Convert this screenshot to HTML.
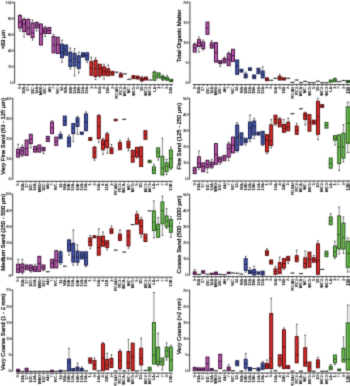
<!DOCTYPE html>
<html><head><meta charset="utf-8"><title>Sediment grain size box plots</title>
<style>
html,body{margin:0;padding:0;background:#fff;}
body{width:350px;height:386px;overflow:hidden;}
svg{display:block;will-change:transform;}
text{font-family:"Liberation Sans",sans-serif;fill:#222;}
.tl{font-size:4.3px;text-anchor:end;fill:#111;stroke:#111;stroke-width:0.1px;}
.xl{font-size:4.1px;text-anchor:end;fill:#000;stroke:#000;stroke-width:0.1px;}
.yl{font-size:5.7px;text-anchor:middle;fill:#000;stroke:#000;stroke-width:0.22px;}
.ax{stroke:#222;stroke-width:0.85;fill:none;}
.wh{stroke:#4a4a4a;stroke-width:0.65;}
.cap{stroke:#222;stroke-width:0.9;}
</style></head>
<body>
<svg width="350" height="386" viewBox="0 0 350 386">
<defs><filter id="bl" x="0" y="0" width="1" height="1" color-interpolation-filters="sRGB"><feConvolveMatrix order="3" kernelMatrix="0.03 0.09 0.03 0.09 0.52 0.09 0.03 0.09 0.03" edgeMode="duplicate"/></filter></defs>
<rect width="350" height="386" fill="#fff"/>
<g filter="url(#bl)">
<line x1="14.6" y1="2" x2="14.6" y2="83.3" class="ax"/>
<line x1="13" y1="83" x2="14.6" y2="83" class="ax"/>
<text x="12.7" y="84.35" class="tl">0</text>
<line x1="13" y1="66.86" x2="14.6" y2="66.86" class="ax"/>
<text x="12.7" y="68.21" class="tl">20</text>
<line x1="13" y1="50.72" x2="14.6" y2="50.72" class="ax"/>
<text x="12.7" y="52.07" class="tl">40</text>
<line x1="13" y1="34.58" x2="14.6" y2="34.58" class="ax"/>
<text x="12.7" y="35.93" class="tl">60</text>
<line x1="13" y1="18.44" x2="14.6" y2="18.44" class="ax"/>
<text x="12.7" y="19.79" class="tl">80</text>
<line x1="13" y1="2.3" x2="14.6" y2="2.3" class="ax"/>
<text x="12.7" y="3.65" class="tl">100</text>
<line x1="17.6" y1="84.6" x2="173" y2="84.6" class="ax"/>
<line x1="19.9" y1="84.6" x2="19.9" y2="86" class="ax"/>
<text transform="translate(21.08 86.8) rotate(-90) scale(1 1)" class="xl">9</text>
<line x1="24.1" y1="84.6" x2="24.1" y2="86" class="ax"/>
<text transform="translate(25.28 86.8) rotate(-90) scale(1 1)" class="xl">10A</text>
<line x1="28.31" y1="84.6" x2="28.31" y2="86" class="ax"/>
<text transform="translate(29.49 86.8) rotate(-90) scale(1 1)" class="xl">17</text>
<line x1="32.52" y1="84.6" x2="32.52" y2="86" class="ax"/>
<text transform="translate(33.69 86.8) rotate(-90) scale(1 1)" class="xl">10C</text>
<line x1="36.72" y1="84.6" x2="36.72" y2="86" class="ax"/>
<text transform="translate(37.9 86.8) rotate(-90) scale(1 1)" class="xl">14A</text>
<line x1="40.92" y1="84.6" x2="40.92" y2="86" class="ax"/>
<text transform="translate(42.1 86.8) rotate(-90) scale(1 1)" class="xl">MB0</text>
<line x1="45.13" y1="84.6" x2="45.13" y2="86" class="ax"/>
<text transform="translate(46.31 86.8) rotate(-90) scale(1 1)" class="xl">10C</text>
<line x1="49.34" y1="84.6" x2="49.34" y2="86" class="ax"/>
<text transform="translate(50.51 86.8) rotate(-90) scale(1 1)" class="xl">AN</text>
<line x1="53.54" y1="84.6" x2="53.54" y2="86" class="ax"/>
<text transform="translate(54.72 86.8) rotate(-90) scale(1 1)" class="xl">7</text>
<line x1="57.74" y1="84.6" x2="57.74" y2="86" class="ax"/>
<text transform="translate(58.92 86.8) rotate(-90) scale(1 1)" class="xl">WC</text>
<line x1="61.95" y1="84.6" x2="61.95" y2="86" class="ax"/>
<text transform="translate(63.13 86.8) rotate(-90) scale(1 1)" class="xl">14</text>
<line x1="66.16" y1="84.6" x2="66.16" y2="86" class="ax"/>
<text transform="translate(67.33 86.8) rotate(-90) scale(1 1)" class="xl">WA</text>
<line x1="70.36" y1="84.6" x2="70.36" y2="86" class="ax"/>
<text transform="translate(71.54 86.8) rotate(-90) scale(1 1)" class="xl">10B</text>
<line x1="74.56" y1="84.6" x2="74.56" y2="86" class="ax"/>
<text transform="translate(75.74 86.8) rotate(-90) scale(1 1)" class="xl">12A</text>
<line x1="78.77" y1="84.6" x2="78.77" y2="86" class="ax"/>
<text transform="translate(79.95 86.8) rotate(-90) scale(1 1)" class="xl">10B</text>
<line x1="82.97" y1="84.6" x2="82.97" y2="86" class="ax"/>
<text transform="translate(84.15 86.8) rotate(-90) scale(1 1)" class="xl">12A</text>
<line x1="87.18" y1="84.6" x2="87.18" y2="86" class="ax"/>
<text transform="translate(88.36 86.8) rotate(-90) scale(1 1)" class="xl">13A</text>
<line x1="91.38" y1="84.6" x2="91.38" y2="86" class="ax"/>
<text transform="translate(92.56 86.8) rotate(-90) scale(1 1)" class="xl">1</text>
<line x1="95.59" y1="84.6" x2="95.59" y2="86" class="ax"/>
<text transform="translate(96.77 86.8) rotate(-90) scale(1 1)" class="xl">3</text>
<line x1="99.79" y1="84.6" x2="99.79" y2="86" class="ax"/>
<text transform="translate(100.97 86.8) rotate(-90) scale(1 1)" class="xl">16A</text>
<line x1="104" y1="84.6" x2="104" y2="86" class="ax"/>
<text transform="translate(105.18 86.8) rotate(-90) scale(1 1)" class="xl">4</text>
<line x1="108.21" y1="84.6" x2="108.21" y2="86" class="ax"/>
<text transform="translate(109.38 86.8) rotate(-90) scale(1 1)" class="xl">11B</text>
<line x1="112.41" y1="84.6" x2="112.41" y2="86" class="ax"/>
<text transform="translate(113.59 86.8) rotate(-90) scale(1 1)" class="xl">2</text>
<line x1="116.62" y1="84.6" x2="116.62" y2="86" class="ax"/>
<text transform="translate(117.79 86.8) rotate(-90) scale(1 1)" class="xl">RCAN</text>
<line x1="120.82" y1="84.6" x2="120.82" y2="86" class="ax"/>
<text transform="translate(122 86.8) rotate(-90) scale(1 1)" class="xl">RC2</text>
<line x1="125.03" y1="84.6" x2="125.03" y2="86" class="ax"/>
<text transform="translate(126.2 86.8) rotate(-90) scale(1 1)" class="xl">MCA</text>
<line x1="129.23" y1="84.6" x2="129.23" y2="86" class="ax"/>
<text transform="translate(130.41 86.8) rotate(-90) scale(1 1)" class="xl">MC</text>
<line x1="133.44" y1="84.6" x2="133.44" y2="86" class="ax"/>
<text transform="translate(134.61 86.8) rotate(-90) scale(1 1)" class="xl">MC5</text>
<line x1="137.64" y1="84.6" x2="137.64" y2="86" class="ax"/>
<text transform="translate(138.82 86.8) rotate(-90) scale(1 1)" class="xl">5</text>
<line x1="141.84" y1="84.6" x2="141.84" y2="86" class="ax"/>
<text transform="translate(143.02 86.8) rotate(-90) scale(1 1)" class="xl">10</text>
<line x1="146.05" y1="84.6" x2="146.05" y2="86" class="ax"/>
<text transform="translate(147.23 86.8) rotate(-90) scale(1 1)" class="xl">MC2</text>
<line x1="150.25" y1="84.6" x2="150.25" y2="86" class="ax"/>
<text transform="translate(151.43 86.8) rotate(-90) scale(1 1)" class="xl">MC3</text>
<line x1="154.46" y1="84.6" x2="154.46" y2="86" class="ax"/>
<text transform="translate(155.64 86.8) rotate(-90) scale(1 1)" class="xl">LA</text>
<line x1="158.67" y1="84.6" x2="158.67" y2="86" class="ax"/>
<text transform="translate(159.84 86.8) rotate(-90) scale(1 1)" class="xl">1</text>
<line x1="162.87" y1="84.6" x2="162.87" y2="86" class="ax"/>
<text transform="translate(164.05 86.8) rotate(-90) scale(1 1)" class="xl">7</text>
<line x1="167.08" y1="84.6" x2="167.08" y2="86" class="ax"/>
<text transform="translate(168.25 86.8) rotate(-90) scale(1 1)" class="xl">3</text>
<line x1="171.28" y1="84.6" x2="171.28" y2="86" class="ax"/>
<text transform="translate(172.46 86.8) rotate(-90) scale(1 1)" class="xl">13B</text>
<text transform="translate(5 39.55) rotate(-90)" class="yl" textLength="19.1" lengthAdjust="spacingAndGlyphs"><63 µm</text>
<line x1="19.9" y1="15" x2="19.9" y2="15.5" class="wh"/>
<line x1="19.15" y1="15" x2="20.65" y2="15" class="cap"/>
<line x1="19.9" y1="28" x2="19.9" y2="31" class="wh"/>
<line x1="19.15" y1="31" x2="20.65" y2="31" class="cap"/>
<rect x="18.45" y="15.5" width="2.9" height="12.5" fill="#c25fb4" stroke="#3a0c38" stroke-width="1"/>
<line x1="18.45" y1="22" x2="21.35" y2="22" stroke="#3a0c38" stroke-width="0.9"/>
<line x1="24.1" y1="18" x2="24.1" y2="19.5" class="wh"/>
<line x1="23.35" y1="18" x2="24.85" y2="18" class="cap"/>
<line x1="24.1" y1="31.5" x2="24.1" y2="37" class="wh"/>
<line x1="23.35" y1="37" x2="24.85" y2="37" class="cap"/>
<rect x="22.65" y="19.5" width="2.9" height="12" fill="#c25fb4" stroke="#3a0c38" stroke-width="1"/>
<line x1="22.65" y1="24" x2="25.55" y2="24" stroke="#3a0c38" stroke-width="0.9"/>
<line x1="28.31" y1="19" x2="28.31" y2="19.5" class="wh"/>
<line x1="27.56" y1="19" x2="29.06" y2="19" class="cap"/>
<line x1="28.31" y1="34.5" x2="28.31" y2="35" class="wh"/>
<line x1="27.56" y1="35" x2="29.06" y2="35" class="cap"/>
<rect x="26.86" y="19.5" width="2.9" height="15" fill="#c25fb4" stroke="#3a0c38" stroke-width="1"/>
<line x1="26.86" y1="28" x2="29.76" y2="28" stroke="#3a0c38" stroke-width="0.9"/>
<line x1="32.52" y1="20" x2="32.52" y2="23" class="wh"/>
<line x1="31.77" y1="20" x2="33.27" y2="20" class="cap"/>
<line x1="32.52" y1="37.5" x2="32.52" y2="40" class="wh"/>
<line x1="31.77" y1="40" x2="33.27" y2="40" class="cap"/>
<rect x="31.07" y="23" width="2.9" height="14.5" fill="#c25fb4" stroke="#3a0c38" stroke-width="1"/>
<line x1="31.07" y1="33" x2="33.97" y2="33" stroke="#3a0c38" stroke-width="0.9"/>
<line x1="36.72" y1="22" x2="36.72" y2="22.5" class="wh"/>
<line x1="35.97" y1="22" x2="37.47" y2="22" class="cap"/>
<line x1="36.72" y1="28" x2="36.72" y2="31" class="wh"/>
<line x1="35.97" y1="31" x2="37.47" y2="31" class="cap"/>
<rect x="35.27" y="22.5" width="2.9" height="5.5" fill="#c25fb4" stroke="#3a0c38" stroke-width="1"/>
<line x1="35.27" y1="25" x2="38.17" y2="25" stroke="#3a0c38" stroke-width="0.9"/>
<rect x="39.47" y="24" width="2.9" height="21" fill="#c25fb4" stroke="#3a0c38" stroke-width="1"/>
<line x1="39.47" y1="34" x2="42.38" y2="34" stroke="#3a0c38" stroke-width="0.9"/>
<line x1="45.13" y1="26.5" x2="45.13" y2="28" class="wh"/>
<line x1="44.38" y1="26.5" x2="45.88" y2="26.5" class="cap"/>
<line x1="45.13" y1="33.5" x2="45.13" y2="36.5" class="wh"/>
<line x1="44.38" y1="36.5" x2="45.88" y2="36.5" class="cap"/>
<rect x="43.68" y="28" width="2.9" height="5.5" fill="#c25fb4" stroke="#3a0c38" stroke-width="1"/>
<line x1="43.68" y1="31" x2="46.58" y2="31" stroke="#3a0c38" stroke-width="0.9"/>
<rect x="47.88" y="27.5" width="2.9" height="6" fill="#c25fb4" stroke="#3a0c38" stroke-width="1"/>
<line x1="47.88" y1="30.5" x2="50.79" y2="30.5" stroke="#3a0c38" stroke-width="0.9"/>
<line x1="53.54" y1="34.6" x2="53.54" y2="36.6" class="wh"/>
<line x1="52.79" y1="34.6" x2="54.29" y2="34.6" class="cap"/>
<rect x="52.09" y="36.6" width="2.9" height="16.2" fill="#c25fb4" stroke="#3a0c38" stroke-width="1"/>
<line x1="52.09" y1="45" x2="54.99" y2="45" stroke="#3a0c38" stroke-width="0.9"/>
<rect x="56.29" y="37.2" width="2.9" height="16.2" fill="#c25fb4" stroke="#3a0c38" stroke-width="1"/>
<line x1="56.29" y1="44.5" x2="59.2" y2="44.5" stroke="#3a0c38" stroke-width="0.9"/>
<line x1="61.95" y1="40.2" x2="61.95" y2="44.2" class="wh"/>
<line x1="61.2" y1="40.2" x2="62.7" y2="40.2" class="cap"/>
<line x1="61.95" y1="57.6" x2="61.95" y2="62.2" class="wh"/>
<line x1="61.2" y1="62.2" x2="62.7" y2="62.2" class="cap"/>
<rect x="60.5" y="44.2" width="2.9" height="13.4" fill="#465aac" stroke="#161c4a" stroke-width="1"/>
<line x1="60.5" y1="52.8" x2="63.4" y2="52.8" stroke="#161c4a" stroke-width="0.9"/>
<rect x="64.7" y="45" width="2.9" height="10.2" fill="#465aac" stroke="#161c4a" stroke-width="1"/>
<line x1="64.7" y1="49.8" x2="67.61" y2="49.8" stroke="#161c4a" stroke-width="0.9"/>
<line x1="70.36" y1="48" x2="70.36" y2="52.2" class="wh"/>
<line x1="69.61" y1="48" x2="71.11" y2="48" class="cap"/>
<line x1="70.36" y1="66.6" x2="70.36" y2="69" class="wh"/>
<line x1="69.61" y1="69" x2="71.11" y2="69" class="cap"/>
<rect x="68.91" y="52.2" width="2.9" height="14.4" fill="#465aac" stroke="#161c4a" stroke-width="1"/>
<line x1="68.91" y1="60.6" x2="71.81" y2="60.6" stroke="#161c4a" stroke-width="0.9"/>
<line x1="74.56" y1="48.6" x2="74.56" y2="53.4" class="wh"/>
<line x1="73.81" y1="48.6" x2="75.31" y2="48.6" class="cap"/>
<line x1="74.56" y1="66" x2="74.56" y2="76" class="wh"/>
<line x1="73.81" y1="76" x2="75.31" y2="76" class="cap"/>
<rect x="73.11" y="53.4" width="2.9" height="12.6" fill="#465aac" stroke="#161c4a" stroke-width="1"/>
<line x1="73.11" y1="58.8" x2="76.02" y2="58.8" stroke="#161c4a" stroke-width="0.9"/>
<line x1="78.77" y1="52.2" x2="78.77" y2="55.8" class="wh"/>
<line x1="78.02" y1="52.2" x2="79.52" y2="52.2" class="cap"/>
<line x1="78.77" y1="68.4" x2="78.77" y2="73" class="wh"/>
<line x1="78.02" y1="73" x2="79.52" y2="73" class="cap"/>
<rect x="77.32" y="55.8" width="2.9" height="12.6" fill="#465aac" stroke="#161c4a" stroke-width="1"/>
<line x1="77.32" y1="62.4" x2="80.22" y2="62.4" stroke="#161c4a" stroke-width="0.9"/>
<rect x="81.52" y="52.8" width="2.9" height="4.2" fill="#465aac" stroke="#161c4a" stroke-width="1"/>
<line x1="81.52" y1="55" x2="84.42" y2="55" stroke="#161c4a" stroke-width="0.9"/>
<line x1="87.18" y1="60" x2="87.18" y2="62.4" class="wh"/>
<line x1="86.43" y1="62.4" x2="87.93" y2="62.4" class="cap"/>
<rect x="85.73" y="52.8" width="2.9" height="7.2" fill="#465aac" stroke="#161c4a" stroke-width="1"/>
<line x1="85.73" y1="55.8" x2="88.63" y2="55.8" stroke="#161c4a" stroke-width="0.9"/>
<line x1="91.38" y1="57.2" x2="91.38" y2="61.7" class="wh"/>
<line x1="90.63" y1="57.2" x2="92.13" y2="57.2" class="cap"/>
<rect x="89.93" y="61.7" width="2.9" height="13.5" fill="#e22c2c" stroke="#520808" stroke-width="1"/>
<line x1="89.93" y1="68.1" x2="92.83" y2="68.1" stroke="#520808" stroke-width="0.9"/>
<line x1="95.59" y1="57.9" x2="95.59" y2="60.4" class="wh"/>
<line x1="94.84" y1="57.9" x2="96.34" y2="57.9" class="cap"/>
<line x1="95.59" y1="76.5" x2="95.59" y2="79.4" class="wh"/>
<line x1="94.84" y1="79.4" x2="96.34" y2="79.4" class="cap"/>
<rect x="94.14" y="60.4" width="2.9" height="16.1" fill="#e22c2c" stroke="#520808" stroke-width="1"/>
<line x1="94.14" y1="68.8" x2="97.04" y2="68.8" stroke="#520808" stroke-width="0.9"/>
<line x1="99.79" y1="75.8" x2="99.79" y2="77" class="wh"/>
<line x1="99.04" y1="77" x2="100.54" y2="77" class="cap"/>
<rect x="98.34" y="64.3" width="2.9" height="11.5" fill="#e22c2c" stroke="#520808" stroke-width="1"/>
<line x1="98.34" y1="68.8" x2="101.24" y2="68.8" stroke="#520808" stroke-width="0.9"/>
<line x1="104" y1="64.3" x2="104" y2="66.9" class="wh"/>
<line x1="103.25" y1="64.3" x2="104.75" y2="64.3" class="cap"/>
<line x1="104" y1="75.2" x2="104" y2="79" class="wh"/>
<line x1="103.25" y1="79" x2="104.75" y2="79" class="cap"/>
<rect x="102.55" y="66.9" width="2.9" height="8.3" fill="#e22c2c" stroke="#520808" stroke-width="1"/>
<line x1="102.55" y1="71.4" x2="105.45" y2="71.4" stroke="#520808" stroke-width="0.9"/>
<line x1="108.21" y1="65" x2="108.21" y2="68.8" class="wh"/>
<line x1="107.46" y1="65" x2="108.96" y2="65" class="cap"/>
<rect x="106.76" y="68.8" width="2.9" height="7" fill="#e22c2c" stroke="#520808" stroke-width="1"/>
<line x1="106.76" y1="72" x2="109.66" y2="72" stroke="#520808" stroke-width="0.9"/>
<rect x="110.96" y="71.4" width="2.9" height="3.8" fill="#e22c2c" stroke="#520808" stroke-width="1"/>
<line x1="110.96" y1="73.3" x2="113.86" y2="73.3" stroke="#520808" stroke-width="0.9"/>
<rect x="114.67" y="71.65" width="3.9" height="1.1" fill="#222"/>
<line x1="120.82" y1="72.6" x2="120.82" y2="73.9" class="wh"/>
<line x1="120.07" y1="72.6" x2="121.57" y2="72.6" class="cap"/>
<rect x="119.37" y="73.9" width="2.9" height="3.2" fill="#e22c2c" stroke="#520808" stroke-width="1"/>
<line x1="119.37" y1="75.6" x2="122.27" y2="75.6" stroke="#520808" stroke-width="0.9"/>
<rect x="123.08" y="73.35" width="3.9" height="1.1" fill="#222"/>
<rect x="127.28" y="78.75" width="3.9" height="1.1" fill="#222"/>
<rect x="131.99" y="75.7" width="2.9" height="2.9" fill="#e22c2c" stroke="#520808" stroke-width="1"/>
<line x1="131.99" y1="77.1" x2="134.88" y2="77.1" stroke="#520808" stroke-width="0.9"/>
<rect x="136.19" y="76.1" width="2.9" height="2.9" fill="#e22c2c" stroke="#520808" stroke-width="1"/>
<line x1="136.19" y1="77.5" x2="139.09" y2="77.5" stroke="#520808" stroke-width="0.9"/>
<line x1="141.84" y1="76.4" x2="141.84" y2="77.9" class="wh"/>
<line x1="141.09" y1="76.4" x2="142.59" y2="76.4" class="cap"/>
<line x1="141.84" y1="80.7" x2="141.84" y2="81.7" class="wh"/>
<line x1="141.09" y1="81.7" x2="142.59" y2="81.7" class="cap"/>
<rect x="140.4" y="77.9" width="2.9" height="2.8" fill="#e22c2c" stroke="#520808" stroke-width="1"/>
<line x1="140.4" y1="79.3" x2="143.29" y2="79.3" stroke="#520808" stroke-width="0.9"/>
<rect x="144.6" y="77.1" width="2.9" height="2.9" fill="#e22c2c" stroke="#520808" stroke-width="1"/>
<line x1="144.6" y1="78.5" x2="147.5" y2="78.5" stroke="#520808" stroke-width="0.9"/>
<rect x="148.31" y="79.45" width="3.9" height="1.1" fill="#222"/>
<line x1="154.46" y1="71.1" x2="154.46" y2="72.1" class="wh"/>
<line x1="153.71" y1="71.1" x2="155.21" y2="71.1" class="cap"/>
<rect x="153.01" y="72.1" width="2.9" height="8.2" fill="#74c252" stroke="#22501a" stroke-width="1"/>
<line x1="153.01" y1="76.4" x2="155.91" y2="76.4" stroke="#22501a" stroke-width="0.9"/>
<rect x="157.22" y="72.9" width="2.9" height="5" fill="#74c252" stroke="#22501a" stroke-width="1"/>
<line x1="157.22" y1="75.4" x2="160.12" y2="75.4" stroke="#22501a" stroke-width="0.9"/>
<line x1="162.87" y1="75" x2="162.87" y2="76.4" class="wh"/>
<line x1="162.12" y1="75" x2="163.62" y2="75" class="cap"/>
<line x1="162.87" y1="79.3" x2="162.87" y2="80.7" class="wh"/>
<line x1="162.12" y1="80.7" x2="163.62" y2="80.7" class="cap"/>
<rect x="161.42" y="76.4" width="2.9" height="2.9" fill="#74c252" stroke="#22501a" stroke-width="1"/>
<line x1="161.42" y1="77.8" x2="164.32" y2="77.8" stroke="#22501a" stroke-width="0.9"/>
<line x1="167.08" y1="75.4" x2="167.08" y2="77.4" class="wh"/>
<line x1="166.33" y1="75.4" x2="167.83" y2="75.4" class="cap"/>
<rect x="165.63" y="77.4" width="2.9" height="2.9" fill="#74c252" stroke="#22501a" stroke-width="1"/>
<line x1="165.63" y1="78.8" x2="168.53" y2="78.8" stroke="#22501a" stroke-width="0.9"/>
<rect x="169.83" y="79.3" width="2.9" height="2.4" fill="#74c252" stroke="#22501a" stroke-width="1"/>
<line x1="169.83" y1="80.5" x2="172.73" y2="80.5" stroke="#22501a" stroke-width="0.9"/>
<line x1="189.9" y1="1.9" x2="189.9" y2="83.1" class="ax"/>
<line x1="188.3" y1="82.8" x2="189.9" y2="82.8" class="ax"/>
<text x="188" y="84.15" class="tl">0</text>
<line x1="188.3" y1="62.65" x2="189.9" y2="62.65" class="ax"/>
<text x="188" y="64" class="tl">5</text>
<line x1="188.3" y1="42.5" x2="189.9" y2="42.5" class="ax"/>
<text x="188" y="43.85" class="tl">10</text>
<line x1="188.3" y1="22.35" x2="189.9" y2="22.35" class="ax"/>
<text x="188" y="23.7" class="tl">15</text>
<line x1="188.3" y1="2.2" x2="189.9" y2="2.2" class="ax"/>
<text x="188" y="3.55" class="tl">20</text>
<line x1="192.6" y1="84.6" x2="349.5" y2="84.6" class="ax"/>
<line x1="194.7" y1="84.6" x2="194.7" y2="86" class="ax"/>
<text transform="translate(195.88 86.8) rotate(-90) scale(1 1)" class="xl">9</text>
<line x1="198.95" y1="84.6" x2="198.95" y2="86" class="ax"/>
<text transform="translate(200.13 86.8) rotate(-90) scale(1 1)" class="xl">10A</text>
<line x1="203.2" y1="84.6" x2="203.2" y2="86" class="ax"/>
<text transform="translate(204.38 86.8) rotate(-90) scale(1 1)" class="xl">17</text>
<line x1="207.45" y1="84.6" x2="207.45" y2="86" class="ax"/>
<text transform="translate(208.63 86.8) rotate(-90) scale(1 1)" class="xl">10C</text>
<line x1="211.7" y1="84.6" x2="211.7" y2="86" class="ax"/>
<text transform="translate(212.88 86.8) rotate(-90) scale(1 1)" class="xl">14A</text>
<line x1="215.95" y1="84.6" x2="215.95" y2="86" class="ax"/>
<text transform="translate(217.13 86.8) rotate(-90) scale(1 1)" class="xl">MB0</text>
<line x1="220.2" y1="84.6" x2="220.2" y2="86" class="ax"/>
<text transform="translate(221.38 86.8) rotate(-90) scale(1 1)" class="xl">10C</text>
<line x1="224.45" y1="84.6" x2="224.45" y2="86" class="ax"/>
<text transform="translate(225.63 86.8) rotate(-90) scale(1 1)" class="xl">AN</text>
<line x1="228.7" y1="84.6" x2="228.7" y2="86" class="ax"/>
<text transform="translate(229.88 86.8) rotate(-90) scale(1 1)" class="xl">7</text>
<line x1="232.95" y1="84.6" x2="232.95" y2="86" class="ax"/>
<text transform="translate(234.13 86.8) rotate(-90) scale(1 1)" class="xl">WC</text>
<line x1="237.2" y1="84.6" x2="237.2" y2="86" class="ax"/>
<text transform="translate(238.38 86.8) rotate(-90) scale(1 1)" class="xl">14</text>
<line x1="241.45" y1="84.6" x2="241.45" y2="86" class="ax"/>
<text transform="translate(242.63 86.8) rotate(-90) scale(1 1)" class="xl">WA</text>
<line x1="245.7" y1="84.6" x2="245.7" y2="86" class="ax"/>
<text transform="translate(246.88 86.8) rotate(-90) scale(1 1)" class="xl">10B</text>
<line x1="249.95" y1="84.6" x2="249.95" y2="86" class="ax"/>
<text transform="translate(251.13 86.8) rotate(-90) scale(1 1)" class="xl">12A</text>
<line x1="254.2" y1="84.6" x2="254.2" y2="86" class="ax"/>
<text transform="translate(255.38 86.8) rotate(-90) scale(1 1)" class="xl">10B</text>
<line x1="258.45" y1="84.6" x2="258.45" y2="86" class="ax"/>
<text transform="translate(259.63 86.8) rotate(-90) scale(1 1)" class="xl">12A</text>
<line x1="262.7" y1="84.6" x2="262.7" y2="86" class="ax"/>
<text transform="translate(263.88 86.8) rotate(-90) scale(1 1)" class="xl">13A</text>
<line x1="266.95" y1="84.6" x2="266.95" y2="86" class="ax"/>
<text transform="translate(268.13 86.8) rotate(-90) scale(1 1)" class="xl">1</text>
<line x1="271.2" y1="84.6" x2="271.2" y2="86" class="ax"/>
<text transform="translate(272.38 86.8) rotate(-90) scale(1 1)" class="xl">3</text>
<line x1="275.45" y1="84.6" x2="275.45" y2="86" class="ax"/>
<text transform="translate(276.63 86.8) rotate(-90) scale(1 1)" class="xl">16A</text>
<line x1="279.7" y1="84.6" x2="279.7" y2="86" class="ax"/>
<text transform="translate(280.88 86.8) rotate(-90) scale(1 1)" class="xl">4</text>
<line x1="283.95" y1="84.6" x2="283.95" y2="86" class="ax"/>
<text transform="translate(285.13 86.8) rotate(-90) scale(1 1)" class="xl">11B</text>
<line x1="288.2" y1="84.6" x2="288.2" y2="86" class="ax"/>
<text transform="translate(289.38 86.8) rotate(-90) scale(1 1)" class="xl">2</text>
<line x1="292.45" y1="84.6" x2="292.45" y2="86" class="ax"/>
<text transform="translate(293.63 86.8) rotate(-90) scale(1 1)" class="xl">RCAN</text>
<line x1="296.7" y1="84.6" x2="296.7" y2="86" class="ax"/>
<text transform="translate(297.88 86.8) rotate(-90) scale(1 1)" class="xl">RC2</text>
<line x1="300.95" y1="84.6" x2="300.95" y2="86" class="ax"/>
<text transform="translate(302.13 86.8) rotate(-90) scale(1 1)" class="xl">MCA</text>
<line x1="305.2" y1="84.6" x2="305.2" y2="86" class="ax"/>
<text transform="translate(306.38 86.8) rotate(-90) scale(1 1)" class="xl">MC</text>
<line x1="309.45" y1="84.6" x2="309.45" y2="86" class="ax"/>
<text transform="translate(310.63 86.8) rotate(-90) scale(1 1)" class="xl">MC5</text>
<line x1="313.7" y1="84.6" x2="313.7" y2="86" class="ax"/>
<text transform="translate(314.88 86.8) rotate(-90) scale(1 1)" class="xl">5</text>
<line x1="317.95" y1="84.6" x2="317.95" y2="86" class="ax"/>
<text transform="translate(319.13 86.8) rotate(-90) scale(1 1)" class="xl">10</text>
<line x1="322.2" y1="84.6" x2="322.2" y2="86" class="ax"/>
<text transform="translate(323.38 86.8) rotate(-90) scale(1 1)" class="xl">MC2</text>
<line x1="326.45" y1="84.6" x2="326.45" y2="86" class="ax"/>
<text transform="translate(327.63 86.8) rotate(-90) scale(1 1)" class="xl">MC3</text>
<line x1="330.7" y1="84.6" x2="330.7" y2="86" class="ax"/>
<text transform="translate(331.88 86.8) rotate(-90) scale(1 1)" class="xl">LA</text>
<line x1="334.95" y1="84.6" x2="334.95" y2="86" class="ax"/>
<text transform="translate(336.13 86.8) rotate(-90) scale(1 1)" class="xl">1</text>
<line x1="339.2" y1="84.6" x2="339.2" y2="86" class="ax"/>
<text transform="translate(340.38 86.8) rotate(-90) scale(1 1)" class="xl">7</text>
<line x1="343.45" y1="84.6" x2="343.45" y2="86" class="ax"/>
<text transform="translate(344.63 86.8) rotate(-90) scale(1 1)" class="xl">3</text>
<line x1="347.7" y1="84.6" x2="347.7" y2="86" class="ax"/>
<text transform="translate(348.88 86.8) rotate(-90) scale(1 1)" class="xl">13B</text>
<text transform="translate(181.4 36.05) rotate(-90)" class="yl" textLength="52.9" lengthAdjust="spacingAndGlyphs">Total Organic Matter</text>
<line x1="194.7" y1="43.1" x2="194.7" y2="44.3" class="wh"/>
<line x1="193.95" y1="43.1" x2="195.45" y2="43.1" class="cap"/>
<rect x="193.25" y="44.3" width="2.9" height="7.8" fill="#c25fb4" stroke="#3a0c38" stroke-width="1"/>
<line x1="193.25" y1="47.9" x2="196.15" y2="47.9" stroke="#3a0c38" stroke-width="0.9"/>
<line x1="198.95" y1="37.1" x2="198.95" y2="39.6" class="wh"/>
<line x1="198.2" y1="37.1" x2="199.7" y2="37.1" class="cap"/>
<line x1="198.95" y1="46.4" x2="198.95" y2="52.1" class="wh"/>
<line x1="198.2" y1="52.1" x2="199.7" y2="52.1" class="cap"/>
<rect x="197.5" y="39.6" width="2.9" height="6.8" fill="#c25fb4" stroke="#3a0c38" stroke-width="1"/>
<line x1="197.5" y1="42.6" x2="200.4" y2="42.6" stroke="#3a0c38" stroke-width="0.9"/>
<line x1="203.2" y1="40" x2="203.2" y2="42.1" class="wh"/>
<line x1="202.45" y1="40" x2="203.95" y2="40" class="cap"/>
<line x1="203.2" y1="48.6" x2="203.2" y2="50" class="wh"/>
<line x1="202.45" y1="50" x2="203.95" y2="50" class="cap"/>
<rect x="201.75" y="42.1" width="2.9" height="6.5" fill="#c25fb4" stroke="#3a0c38" stroke-width="1"/>
<line x1="201.75" y1="45.4" x2="204.65" y2="45.4" stroke="#3a0c38" stroke-width="0.9"/>
<rect x="206" y="22.1" width="2.9" height="12.2" fill="#c25fb4" stroke="#3a0c38" stroke-width="1"/>
<line x1="206" y1="27.9" x2="208.9" y2="27.9" stroke="#3a0c38" stroke-width="0.9"/>
<line x1="211.7" y1="40.7" x2="211.7" y2="42.9" class="wh"/>
<line x1="210.95" y1="40.7" x2="212.45" y2="40.7" class="cap"/>
<line x1="211.7" y1="47.9" x2="211.7" y2="48.3" class="wh"/>
<line x1="210.95" y1="48.3" x2="212.45" y2="48.3" class="cap"/>
<rect x="210.25" y="42.9" width="2.9" height="5" fill="#c25fb4" stroke="#3a0c38" stroke-width="1"/>
<line x1="210.25" y1="45.3" x2="213.15" y2="45.3" stroke="#3a0c38" stroke-width="0.9"/>
<rect x="214.5" y="42.6" width="2.9" height="19.5" fill="#c25fb4" stroke="#3a0c38" stroke-width="1"/>
<line x1="214.5" y1="52.6" x2="217.4" y2="52.6" stroke="#3a0c38" stroke-width="0.9"/>
<line x1="220.2" y1="63.6" x2="220.2" y2="66.4" class="wh"/>
<line x1="219.45" y1="66.4" x2="220.95" y2="66.4" class="cap"/>
<rect x="218.75" y="60.7" width="2.9" height="2.9" fill="#c25fb4" stroke="#3a0c38" stroke-width="1"/>
<line x1="218.75" y1="62.1" x2="221.65" y2="62.1" stroke="#3a0c38" stroke-width="0.9"/>
<line x1="224.45" y1="57.1" x2="224.45" y2="58.6" class="wh"/>
<line x1="223.7" y1="57.1" x2="225.2" y2="57.1" class="cap"/>
<rect x="223" y="58.6" width="2.9" height="4.3" fill="#c25fb4" stroke="#3a0c38" stroke-width="1"/>
<line x1="223" y1="60.7" x2="225.9" y2="60.7" stroke="#3a0c38" stroke-width="0.9"/>
<line x1="228.7" y1="52.1" x2="228.7" y2="53.6" class="wh"/>
<line x1="227.95" y1="52.1" x2="229.45" y2="52.1" class="cap"/>
<rect x="227.25" y="53.6" width="2.9" height="12.1" fill="#c25fb4" stroke="#3a0c38" stroke-width="1"/>
<line x1="227.25" y1="59.3" x2="230.15" y2="59.3" stroke="#3a0c38" stroke-width="0.9"/>
<rect x="231.5" y="49.3" width="2.9" height="12.1" fill="#c25fb4" stroke="#3a0c38" stroke-width="1"/>
<line x1="231.5" y1="55.7" x2="234.4" y2="55.7" stroke="#3a0c38" stroke-width="0.9"/>
<rect x="235.75" y="60" width="2.9" height="14.3" fill="#465aac" stroke="#161c4a" stroke-width="1"/>
<line x1="235.75" y1="65.7" x2="238.65" y2="65.7" stroke="#161c4a" stroke-width="0.9"/>
<rect x="240" y="69.3" width="2.9" height="2.8" fill="#465aac" stroke="#161c4a" stroke-width="1"/>
<line x1="240" y1="70.7" x2="242.9" y2="70.7" stroke="#161c4a" stroke-width="0.9"/>
<line x1="245.7" y1="72.1" x2="245.7" y2="74" class="wh"/>
<line x1="244.95" y1="72.1" x2="246.45" y2="72.1" class="cap"/>
<rect x="244.25" y="74" width="2.9" height="3.9" fill="#465aac" stroke="#161c4a" stroke-width="1"/>
<line x1="244.25" y1="75.7" x2="247.15" y2="75.7" stroke="#161c4a" stroke-width="0.9"/>
<rect x="248.5" y="67.9" width="2.9" height="2.4" fill="#465aac" stroke="#161c4a" stroke-width="1"/>
<line x1="248.5" y1="69.1" x2="251.4" y2="69.1" stroke="#161c4a" stroke-width="0.9"/>
<rect x="252.75" y="75" width="2.9" height="3.6" fill="#465aac" stroke="#161c4a" stroke-width="1"/>
<line x1="252.75" y1="76.5" x2="255.65" y2="76.5" stroke="#161c4a" stroke-width="0.9"/>
<rect x="257" y="68.3" width="2.9" height="5.3" fill="#465aac" stroke="#161c4a" stroke-width="1"/>
<line x1="257" y1="71.1" x2="259.9" y2="71.1" stroke="#161c4a" stroke-width="0.9"/>
<line x1="262.7" y1="66.9" x2="262.7" y2="71.1" class="wh"/>
<line x1="261.95" y1="66.9" x2="263.45" y2="66.9" class="cap"/>
<rect x="261.25" y="71.1" width="2.9" height="6.8" fill="#465aac" stroke="#161c4a" stroke-width="1"/>
<line x1="261.25" y1="74.3" x2="264.15" y2="74.3" stroke="#161c4a" stroke-width="0.9"/>
<rect x="265.5" y="77.9" width="2.9" height="2.8" fill="#e22c2c" stroke="#520808" stroke-width="1"/>
<line x1="265.5" y1="79.3" x2="268.4" y2="79.3" stroke="#520808" stroke-width="0.9"/>
<rect x="269.25" y="79.75" width="3.9" height="1.1" fill="#222"/>
<rect x="273.5" y="77.75" width="3.9" height="1.1" fill="#222"/>
<line x1="279.7" y1="74.6" x2="279.7" y2="76.4" class="wh"/>
<line x1="278.95" y1="74.6" x2="280.45" y2="74.6" class="cap"/>
<rect x="278.25" y="76.4" width="2.9" height="3.6" fill="#e22c2c" stroke="#520808" stroke-width="1"/>
<line x1="278.25" y1="78.2" x2="281.15" y2="78.2" stroke="#520808" stroke-width="0.9"/>
<rect x="282.5" y="77.9" width="2.9" height="2.1" fill="#e22c2c" stroke="#520808" stroke-width="1"/>
<line x1="282.5" y1="79" x2="285.4" y2="79" stroke="#520808" stroke-width="0.9"/>
<rect x="286.25" y="77.75" width="3.9" height="1.1" fill="#222"/>
<rect x="290.5" y="81.85" width="3.9" height="1.1" fill="#222"/>
<rect x="294.75" y="79.45" width="3.9" height="1.1" fill="#222"/>
<rect x="299" y="82.15" width="3.9" height="1.1" fill="#222"/>
<rect x="303.25" y="80.85" width="3.9" height="1.1" fill="#222"/>
<rect x="307.5" y="82.15" width="3.9" height="1.1" fill="#222"/>
<rect x="311.75" y="82.15" width="3.9" height="1.1" fill="#222"/>
<rect x="316" y="80.65" width="3.9" height="1.1" fill="#222"/>
<rect x="320.25" y="82.15" width="3.9" height="1.1" fill="#222"/>
<rect x="324.5" y="82.15" width="3.9" height="1.1" fill="#222"/>
<rect x="329.25" y="80" width="2.9" height="2.2" fill="#74c252" stroke="#22501a" stroke-width="1"/>
<line x1="329.25" y1="81.1" x2="332.15" y2="81.1" stroke="#22501a" stroke-width="0.9"/>
<line x1="334.95" y1="78" x2="334.95" y2="78.8" class="wh"/>
<line x1="334.2" y1="78" x2="335.7" y2="78" class="cap"/>
<rect x="333.5" y="78.8" width="2.9" height="2.9" fill="#74c252" stroke="#22501a" stroke-width="1"/>
<line x1="333.5" y1="80.2" x2="336.4" y2="80.2" stroke="#22501a" stroke-width="0.9"/>
<rect x="337.25" y="81.15" width="3.9" height="1.1" fill="#222"/>
<rect x="341.5" y="79.95" width="3.9" height="1.1" fill="#222"/>
<rect x="346.25" y="80.5" width="2.9" height="2.1" fill="#74c252" stroke="#22501a" stroke-width="1"/>
<line x1="346.25" y1="81.5" x2="349.15" y2="81.5" stroke="#22501a" stroke-width="0.9"/>
<line x1="12.8" y1="98" x2="12.8" y2="179.4" class="ax"/>
<line x1="11.2" y1="179.1" x2="12.8" y2="179.1" class="ax"/>
<text x="10.9" y="180.45" class="tl">0</text>
<line x1="11.2" y1="158.9" x2="12.8" y2="158.9" class="ax"/>
<text x="10.9" y="160.25" class="tl">10</text>
<line x1="11.2" y1="138.7" x2="12.8" y2="138.7" class="ax"/>
<text x="10.9" y="140.05" class="tl">20</text>
<line x1="11.2" y1="118.5" x2="12.8" y2="118.5" class="ax"/>
<text x="10.9" y="119.85" class="tl">30</text>
<line x1="11.2" y1="98.3" x2="12.8" y2="98.3" class="ax"/>
<text x="10.9" y="99.65" class="tl">40</text>
<line x1="16.2" y1="181.3" x2="172.6" y2="181.3" class="ax"/>
<line x1="18.1" y1="181.3" x2="18.1" y2="182.7" class="ax"/>
<text transform="translate(19.28 183.5) rotate(-90) scale(1 1)" class="xl">9</text>
<line x1="22.34" y1="181.3" x2="22.34" y2="182.7" class="ax"/>
<text transform="translate(23.52 183.5) rotate(-90) scale(1 1)" class="xl">10A</text>
<line x1="26.59" y1="181.3" x2="26.59" y2="182.7" class="ax"/>
<text transform="translate(27.76 183.5) rotate(-90) scale(1 1)" class="xl">17</text>
<line x1="30.83" y1="181.3" x2="30.83" y2="182.7" class="ax"/>
<text transform="translate(32.01 183.5) rotate(-90) scale(1 1)" class="xl">10C</text>
<line x1="35.08" y1="181.3" x2="35.08" y2="182.7" class="ax"/>
<text transform="translate(36.25 183.5) rotate(-90) scale(1 1)" class="xl">14A</text>
<line x1="39.32" y1="181.3" x2="39.32" y2="182.7" class="ax"/>
<text transform="translate(40.5 183.5) rotate(-90) scale(1 1)" class="xl">MB0</text>
<line x1="43.56" y1="181.3" x2="43.56" y2="182.7" class="ax"/>
<text transform="translate(44.74 183.5) rotate(-90) scale(1 1)" class="xl">10C</text>
<line x1="47.81" y1="181.3" x2="47.81" y2="182.7" class="ax"/>
<text transform="translate(48.98 183.5) rotate(-90) scale(1 1)" class="xl">AN</text>
<line x1="52.05" y1="181.3" x2="52.05" y2="182.7" class="ax"/>
<text transform="translate(53.23 183.5) rotate(-90) scale(1 1)" class="xl">7</text>
<line x1="56.3" y1="181.3" x2="56.3" y2="182.7" class="ax"/>
<text transform="translate(57.47 183.5) rotate(-90) scale(1 1)" class="xl">WC</text>
<line x1="60.54" y1="181.3" x2="60.54" y2="182.7" class="ax"/>
<text transform="translate(61.72 183.5) rotate(-90) scale(1 1)" class="xl">14</text>
<line x1="64.78" y1="181.3" x2="64.78" y2="182.7" class="ax"/>
<text transform="translate(65.96 183.5) rotate(-90) scale(1 1)" class="xl">WA</text>
<line x1="69.03" y1="181.3" x2="69.03" y2="182.7" class="ax"/>
<text transform="translate(70.2 183.5) rotate(-90) scale(1 1)" class="xl">10B</text>
<line x1="73.27" y1="181.3" x2="73.27" y2="182.7" class="ax"/>
<text transform="translate(74.45 183.5) rotate(-90) scale(1 1)" class="xl">12A</text>
<line x1="77.52" y1="181.3" x2="77.52" y2="182.7" class="ax"/>
<text transform="translate(78.69 183.5) rotate(-90) scale(1 1)" class="xl">10B</text>
<line x1="81.76" y1="181.3" x2="81.76" y2="182.7" class="ax"/>
<text transform="translate(82.94 183.5) rotate(-90) scale(1 1)" class="xl">12A</text>
<line x1="86" y1="181.3" x2="86" y2="182.7" class="ax"/>
<text transform="translate(87.18 183.5) rotate(-90) scale(1 1)" class="xl">13A</text>
<line x1="90.25" y1="181.3" x2="90.25" y2="182.7" class="ax"/>
<text transform="translate(91.42 183.5) rotate(-90) scale(1 1)" class="xl">1</text>
<line x1="94.49" y1="181.3" x2="94.49" y2="182.7" class="ax"/>
<text transform="translate(95.67 183.5) rotate(-90) scale(1 1)" class="xl">3</text>
<line x1="98.74" y1="181.3" x2="98.74" y2="182.7" class="ax"/>
<text transform="translate(99.91 183.5) rotate(-90) scale(1 1)" class="xl">16A</text>
<line x1="102.98" y1="181.3" x2="102.98" y2="182.7" class="ax"/>
<text transform="translate(104.16 183.5) rotate(-90) scale(1 1)" class="xl">4</text>
<line x1="107.22" y1="181.3" x2="107.22" y2="182.7" class="ax"/>
<text transform="translate(108.4 183.5) rotate(-90) scale(1 1)" class="xl">11B</text>
<line x1="111.47" y1="181.3" x2="111.47" y2="182.7" class="ax"/>
<text transform="translate(112.64 183.5) rotate(-90) scale(1 1)" class="xl">2</text>
<line x1="115.71" y1="181.3" x2="115.71" y2="182.7" class="ax"/>
<text transform="translate(116.89 183.5) rotate(-90) scale(1 1)" class="xl">RCAN</text>
<line x1="119.96" y1="181.3" x2="119.96" y2="182.7" class="ax"/>
<text transform="translate(121.13 183.5) rotate(-90) scale(1 1)" class="xl">RC2</text>
<line x1="124.2" y1="181.3" x2="124.2" y2="182.7" class="ax"/>
<text transform="translate(125.38 183.5) rotate(-90) scale(1 1)" class="xl">MCA</text>
<line x1="128.44" y1="181.3" x2="128.44" y2="182.7" class="ax"/>
<text transform="translate(129.62 183.5) rotate(-90) scale(1 1)" class="xl">MC</text>
<line x1="132.69" y1="181.3" x2="132.69" y2="182.7" class="ax"/>
<text transform="translate(133.86 183.5) rotate(-90) scale(1 1)" class="xl">MC5</text>
<line x1="136.93" y1="181.3" x2="136.93" y2="182.7" class="ax"/>
<text transform="translate(138.11 183.5) rotate(-90) scale(1 1)" class="xl">5</text>
<line x1="141.18" y1="181.3" x2="141.18" y2="182.7" class="ax"/>
<text transform="translate(142.35 183.5) rotate(-90) scale(1 1)" class="xl">10</text>
<line x1="145.42" y1="181.3" x2="145.42" y2="182.7" class="ax"/>
<text transform="translate(146.6 183.5) rotate(-90) scale(1 1)" class="xl">MC2</text>
<line x1="149.66" y1="181.3" x2="149.66" y2="182.7" class="ax"/>
<text transform="translate(150.84 183.5) rotate(-90) scale(1 1)" class="xl">MC3</text>
<line x1="153.91" y1="181.3" x2="153.91" y2="182.7" class="ax"/>
<text transform="translate(155.08 183.5) rotate(-90) scale(1 1)" class="xl">LA</text>
<line x1="158.15" y1="181.3" x2="158.15" y2="182.7" class="ax"/>
<text transform="translate(159.33 183.5) rotate(-90) scale(1 1)" class="xl">1</text>
<line x1="162.4" y1="181.3" x2="162.4" y2="182.7" class="ax"/>
<text transform="translate(163.57 183.5) rotate(-90) scale(1 1)" class="xl">7</text>
<line x1="166.64" y1="181.3" x2="166.64" y2="182.7" class="ax"/>
<text transform="translate(167.82 183.5) rotate(-90) scale(1 1)" class="xl">3</text>
<line x1="170.88" y1="181.3" x2="170.88" y2="182.7" class="ax"/>
<text transform="translate(172.06 183.5) rotate(-90) scale(1 1)" class="xl">13B</text>
<text transform="translate(4.8 136.15) rotate(-90)" class="yl" textLength="76.5" lengthAdjust="spacingAndGlyphs">Very Fine Sand (63 - 125 µm)</text>
<line x1="18.1" y1="144.3" x2="18.1" y2="149.3" class="wh"/>
<line x1="17.35" y1="144.3" x2="18.85" y2="144.3" class="cap"/>
<rect x="16.65" y="149.3" width="2.9" height="7.8" fill="#c25fb4" stroke="#3a0c38" stroke-width="1"/>
<line x1="16.65" y1="152.9" x2="19.55" y2="152.9" stroke="#3a0c38" stroke-width="0.9"/>
<line x1="22.34" y1="145" x2="22.34" y2="147.4" class="wh"/>
<line x1="21.59" y1="145" x2="23.09" y2="145" class="cap"/>
<line x1="22.34" y1="155" x2="22.34" y2="156.4" class="wh"/>
<line x1="21.59" y1="156.4" x2="23.09" y2="156.4" class="cap"/>
<rect x="20.89" y="147.4" width="2.9" height="7.6" fill="#c25fb4" stroke="#3a0c38" stroke-width="1"/>
<line x1="20.89" y1="150.7" x2="23.79" y2="150.7" stroke="#3a0c38" stroke-width="0.9"/>
<rect x="25.14" y="140" width="2.9" height="15.4" fill="#c25fb4" stroke="#3a0c38" stroke-width="1"/>
<line x1="25.14" y1="148.6" x2="28.04" y2="148.6" stroke="#3a0c38" stroke-width="0.9"/>
<line x1="30.83" y1="143.6" x2="30.83" y2="147.9" class="wh"/>
<line x1="30.08" y1="147.9" x2="31.58" y2="147.9" class="cap"/>
<rect x="29.38" y="134.3" width="2.9" height="9.3" fill="#c25fb4" stroke="#3a0c38" stroke-width="1"/>
<line x1="29.38" y1="139.3" x2="32.28" y2="139.3" stroke="#3a0c38" stroke-width="0.9"/>
<rect x="33.63" y="146.4" width="2.9" height="5.7" fill="#c25fb4" stroke="#3a0c38" stroke-width="1"/>
<line x1="33.63" y1="149.3" x2="36.53" y2="149.3" stroke="#3a0c38" stroke-width="0.9"/>
<rect x="37.87" y="145" width="2.9" height="7.1" fill="#c25fb4" stroke="#3a0c38" stroke-width="1"/>
<line x1="37.87" y1="148.6" x2="40.77" y2="148.6" stroke="#3a0c38" stroke-width="0.9"/>
<line x1="43.56" y1="150.7" x2="43.56" y2="153.6" class="wh"/>
<line x1="42.81" y1="153.6" x2="44.31" y2="153.6" class="cap"/>
<rect x="42.11" y="147.4" width="2.9" height="3.3" fill="#c25fb4" stroke="#3a0c38" stroke-width="1"/>
<line x1="42.11" y1="149" x2="45.01" y2="149" stroke="#3a0c38" stroke-width="0.9"/>
<rect x="46.36" y="136.4" width="2.9" height="5" fill="#c25fb4" stroke="#3a0c38" stroke-width="1"/>
<line x1="46.36" y1="138.6" x2="49.26" y2="138.6" stroke="#3a0c38" stroke-width="0.9"/>
<line x1="52.05" y1="120.7" x2="52.05" y2="122.1" class="wh"/>
<line x1="51.3" y1="120.7" x2="52.8" y2="120.7" class="cap"/>
<rect x="50.6" y="122.1" width="2.9" height="11.5" fill="#c25fb4" stroke="#3a0c38" stroke-width="1"/>
<line x1="50.6" y1="127.9" x2="53.5" y2="127.9" stroke="#3a0c38" stroke-width="0.9"/>
<rect x="54.85" y="137.1" width="2.9" height="8.3" fill="#c25fb4" stroke="#3a0c38" stroke-width="1"/>
<line x1="54.85" y1="141.4" x2="57.75" y2="141.4" stroke="#3a0c38" stroke-width="0.9"/>
<line x1="60.54" y1="132.1" x2="60.54" y2="134.3" class="wh"/>
<line x1="59.79" y1="132.1" x2="61.29" y2="132.1" class="cap"/>
<rect x="59.09" y="134.3" width="2.9" height="4.3" fill="#465aac" stroke="#161c4a" stroke-width="1"/>
<line x1="59.09" y1="136.4" x2="61.99" y2="136.4" stroke="#161c4a" stroke-width="0.9"/>
<rect x="63.33" y="116.1" width="2.9" height="9.3" fill="#465aac" stroke="#161c4a" stroke-width="1"/>
<line x1="63.33" y1="120.7" x2="66.23" y2="120.7" stroke="#161c4a" stroke-width="0.9"/>
<line x1="69.03" y1="135" x2="69.03" y2="137.1" class="wh"/>
<line x1="68.28" y1="135" x2="69.78" y2="135" class="cap"/>
<rect x="67.58" y="137.1" width="2.9" height="9.6" fill="#465aac" stroke="#161c4a" stroke-width="1"/>
<line x1="67.58" y1="141.9" x2="70.48" y2="141.9" stroke="#161c4a" stroke-width="0.9"/>
<line x1="73.27" y1="133.6" x2="73.27" y2="141.4" class="wh"/>
<line x1="72.52" y1="141.4" x2="74.02" y2="141.4" class="cap"/>
<rect x="71.82" y="123.6" width="2.9" height="10" fill="#465aac" stroke="#161c4a" stroke-width="1"/>
<line x1="71.82" y1="128.1" x2="74.72" y2="128.1" stroke="#161c4a" stroke-width="0.9"/>
<line x1="77.52" y1="116.4" x2="77.52" y2="117.9" class="wh"/>
<line x1="76.77" y1="116.4" x2="78.27" y2="116.4" class="cap"/>
<line x1="77.52" y1="126.4" x2="77.52" y2="134.3" class="wh"/>
<line x1="76.77" y1="134.3" x2="78.27" y2="134.3" class="cap"/>
<rect x="76.07" y="117.9" width="2.9" height="8.5" fill="#465aac" stroke="#161c4a" stroke-width="1"/>
<line x1="76.07" y1="121.4" x2="78.97" y2="121.4" stroke="#161c4a" stroke-width="0.9"/>
<rect x="80.31" y="132.1" width="2.9" height="2.2" fill="#465aac" stroke="#161c4a" stroke-width="1"/>
<line x1="80.31" y1="133.2" x2="83.21" y2="133.2" stroke="#161c4a" stroke-width="0.9"/>
<line x1="86" y1="111.9" x2="86" y2="113.9" class="wh"/>
<line x1="85.25" y1="111.9" x2="86.75" y2="111.9" class="cap"/>
<rect x="84.55" y="113.9" width="2.9" height="16.8" fill="#465aac" stroke="#161c4a" stroke-width="1"/>
<line x1="84.55" y1="122.1" x2="87.45" y2="122.1" stroke="#161c4a" stroke-width="0.9"/>
<rect x="88.8" y="137.6" width="2.9" height="2.8" fill="#e22c2c" stroke="#520808" stroke-width="1"/>
<line x1="88.8" y1="139" x2="91.7" y2="139" stroke="#520808" stroke-width="0.9"/>
<line x1="94.49" y1="146.4" x2="94.49" y2="147.4" class="wh"/>
<line x1="93.74" y1="146.4" x2="95.24" y2="146.4" class="cap"/>
<line x1="94.49" y1="157.9" x2="94.49" y2="160.3" class="wh"/>
<line x1="93.74" y1="160.3" x2="95.24" y2="160.3" class="cap"/>
<rect x="93.04" y="147.4" width="2.9" height="10.5" fill="#e22c2c" stroke="#520808" stroke-width="1"/>
<line x1="93.04" y1="152.1" x2="95.94" y2="152.1" stroke="#520808" stroke-width="0.9"/>
<line x1="98.74" y1="114.7" x2="98.74" y2="115.7" class="wh"/>
<line x1="97.99" y1="114.7" x2="99.49" y2="114.7" class="cap"/>
<line x1="98.74" y1="138.6" x2="98.74" y2="142.4" class="wh"/>
<line x1="97.99" y1="142.4" x2="99.49" y2="142.4" class="cap"/>
<rect x="97.29" y="115.7" width="2.9" height="22.9" fill="#e22c2c" stroke="#520808" stroke-width="1"/>
<line x1="97.29" y1="126.4" x2="100.19" y2="126.4" stroke="#520808" stroke-width="0.9"/>
<line x1="102.98" y1="138.3" x2="102.98" y2="140" class="wh"/>
<line x1="102.23" y1="138.3" x2="103.73" y2="138.3" class="cap"/>
<line x1="102.98" y1="149.7" x2="102.98" y2="154.3" class="wh"/>
<line x1="102.23" y1="154.3" x2="103.73" y2="154.3" class="cap"/>
<rect x="101.53" y="140" width="2.9" height="9.7" fill="#e22c2c" stroke="#520808" stroke-width="1"/>
<line x1="101.53" y1="144.3" x2="104.43" y2="144.3" stroke="#520808" stroke-width="0.9"/>
<line x1="107.22" y1="132.6" x2="107.22" y2="134" class="wh"/>
<line x1="106.47" y1="132.6" x2="107.97" y2="132.6" class="cap"/>
<line x1="107.22" y1="147.4" x2="107.22" y2="153.1" class="wh"/>
<line x1="106.47" y1="153.1" x2="107.97" y2="153.1" class="cap"/>
<rect x="105.77" y="134" width="2.9" height="13.4" fill="#e22c2c" stroke="#520808" stroke-width="1"/>
<line x1="105.77" y1="140.7" x2="108.67" y2="140.7" stroke="#520808" stroke-width="0.9"/>
<line x1="111.47" y1="144.6" x2="111.47" y2="147.9" class="wh"/>
<line x1="110.72" y1="144.6" x2="112.22" y2="144.6" class="cap"/>
<rect x="110.02" y="147.9" width="2.9" height="5.7" fill="#e22c2c" stroke="#520808" stroke-width="1"/>
<line x1="110.02" y1="150.7" x2="112.92" y2="150.7" stroke="#520808" stroke-width="0.9"/>
<rect x="114.26" y="119.3" width="2.9" height="1.4" fill="#e22c2c" stroke="#520808" stroke-width="1"/>
<line x1="114.26" y1="120" x2="117.16" y2="120" stroke="#520808" stroke-width="0.9"/>
<line x1="119.96" y1="140.3" x2="119.96" y2="142.6" class="wh"/>
<line x1="119.21" y1="140.3" x2="120.71" y2="140.3" class="cap"/>
<rect x="118.51" y="142.6" width="2.9" height="7.1" fill="#e22c2c" stroke="#520808" stroke-width="1"/>
<line x1="118.51" y1="146.4" x2="121.41" y2="146.4" stroke="#520808" stroke-width="0.9"/>
<rect x="122.25" y="118.75" width="3.9" height="1.1" fill="#222"/>
<line x1="128.44" y1="138.3" x2="128.44" y2="141.1" class="wh"/>
<line x1="127.69" y1="138.3" x2="129.19" y2="138.3" class="cap"/>
<line x1="128.44" y1="147.9" x2="128.44" y2="150.7" class="wh"/>
<line x1="127.69" y1="150.7" x2="129.19" y2="150.7" class="cap"/>
<rect x="126.99" y="141.1" width="2.9" height="6.8" fill="#e22c2c" stroke="#520808" stroke-width="1"/>
<line x1="126.99" y1="144.3" x2="129.89" y2="144.3" stroke="#520808" stroke-width="0.9"/>
<rect x="131.24" y="150.3" width="2.9" height="11.8" fill="#e22c2c" stroke="#520808" stroke-width="1"/>
<line x1="131.24" y1="156.4" x2="134.14" y2="156.4" stroke="#520808" stroke-width="0.9"/>
<line x1="136.93" y1="156.9" x2="136.93" y2="158" class="wh"/>
<line x1="136.18" y1="158" x2="137.68" y2="158" class="cap"/>
<rect x="135.48" y="147.4" width="2.9" height="9.5" fill="#e22c2c" stroke="#520808" stroke-width="1"/>
<line x1="135.48" y1="152.1" x2="138.38" y2="152.1" stroke="#520808" stroke-width="0.9"/>
<rect x="139.73" y="146.9" width="2.9" height="19.5" fill="#e22c2c" stroke="#520808" stroke-width="1"/>
<line x1="139.73" y1="156.4" x2="142.63" y2="156.4" stroke="#520808" stroke-width="0.9"/>
<rect x="143.97" y="130.7" width="2.9" height="8.6" fill="#e22c2c" stroke="#520808" stroke-width="1"/>
<line x1="143.97" y1="135" x2="146.87" y2="135" stroke="#520808" stroke-width="0.9"/>
<rect x="148.21" y="160.3" width="2.9" height="2.3" fill="#74c252" stroke="#22501a" stroke-width="1"/>
<line x1="148.21" y1="161.4" x2="151.11" y2="161.4" stroke="#22501a" stroke-width="0.9"/>
<line x1="153.91" y1="164.3" x2="153.91" y2="166.9" class="wh"/>
<line x1="153.16" y1="164.3" x2="154.66" y2="164.3" class="cap"/>
<rect x="152.46" y="166.9" width="2.9" height="6.7" fill="#74c252" stroke="#22501a" stroke-width="1"/>
<line x1="152.46" y1="170" x2="155.36" y2="170" stroke="#22501a" stroke-width="0.9"/>
<line x1="158.15" y1="157.1" x2="158.15" y2="160" class="wh"/>
<line x1="157.4" y1="160" x2="158.9" y2="160" class="cap"/>
<rect x="156.7" y="147.9" width="2.9" height="9.2" fill="#74c252" stroke="#22501a" stroke-width="1"/>
<line x1="156.7" y1="152.1" x2="159.6" y2="152.1" stroke="#22501a" stroke-width="0.9"/>
<line x1="162.4" y1="138.3" x2="162.4" y2="156.4" class="wh"/>
<line x1="161.65" y1="138.3" x2="163.15" y2="138.3" class="cap"/>
<rect x="160.95" y="156.4" width="2.9" height="18.6" fill="#74c252" stroke="#22501a" stroke-width="1"/>
<line x1="160.95" y1="168" x2="163.85" y2="168" stroke="#22501a" stroke-width="0.9"/>
<line x1="166.64" y1="159.3" x2="166.64" y2="162.9" class="wh"/>
<line x1="165.89" y1="159.3" x2="167.39" y2="159.3" class="cap"/>
<line x1="166.64" y1="171.4" x2="166.64" y2="174.3" class="wh"/>
<line x1="165.89" y1="174.3" x2="167.39" y2="174.3" class="cap"/>
<rect x="165.19" y="162.9" width="2.9" height="8.5" fill="#74c252" stroke="#22501a" stroke-width="1"/>
<line x1="165.19" y1="166.4" x2="168.09" y2="166.4" stroke="#22501a" stroke-width="0.9"/>
<line x1="170.88" y1="147.1" x2="170.88" y2="150" class="wh"/>
<line x1="170.13" y1="147.1" x2="171.63" y2="147.1" class="cap"/>
<line x1="170.88" y1="167.9" x2="170.88" y2="169.3" class="wh"/>
<line x1="170.13" y1="169.3" x2="171.63" y2="169.3" class="cap"/>
<rect x="169.43" y="150" width="2.9" height="17.9" fill="#74c252" stroke="#22501a" stroke-width="1"/>
<line x1="169.43" y1="158.6" x2="172.33" y2="158.6" stroke="#22501a" stroke-width="0.9"/>
<line x1="189.6" y1="97.9" x2="189.6" y2="179.3" class="ax"/>
<line x1="188" y1="179" x2="189.6" y2="179" class="ax"/>
<text x="187.7" y="180.35" class="tl">0</text>
<line x1="188" y1="162.84" x2="189.6" y2="162.84" class="ax"/>
<text x="187.7" y="164.19" class="tl">10</text>
<line x1="188" y1="146.68" x2="189.6" y2="146.68" class="ax"/>
<text x="187.7" y="148.03" class="tl">20</text>
<line x1="188" y1="130.52" x2="189.6" y2="130.52" class="ax"/>
<text x="187.7" y="131.87" class="tl">30</text>
<line x1="188" y1="114.36" x2="189.6" y2="114.36" class="ax"/>
<text x="187.7" y="115.71" class="tl">40</text>
<line x1="188" y1="98.2" x2="189.6" y2="98.2" class="ax"/>
<text x="187.7" y="99.55" class="tl">50</text>
<line x1="192.6" y1="181" x2="349.5" y2="181" class="ax"/>
<line x1="194.7" y1="181" x2="194.7" y2="182.4" class="ax"/>
<text transform="translate(195.88 183.2) rotate(-90) scale(1 1)" class="xl">9</text>
<line x1="198.95" y1="181" x2="198.95" y2="182.4" class="ax"/>
<text transform="translate(200.13 183.2) rotate(-90) scale(1 1)" class="xl">10A</text>
<line x1="203.2" y1="181" x2="203.2" y2="182.4" class="ax"/>
<text transform="translate(204.38 183.2) rotate(-90) scale(1 1)" class="xl">17</text>
<line x1="207.45" y1="181" x2="207.45" y2="182.4" class="ax"/>
<text transform="translate(208.63 183.2) rotate(-90) scale(1 1)" class="xl">10C</text>
<line x1="211.7" y1="181" x2="211.7" y2="182.4" class="ax"/>
<text transform="translate(212.88 183.2) rotate(-90) scale(1 1)" class="xl">14A</text>
<line x1="215.95" y1="181" x2="215.95" y2="182.4" class="ax"/>
<text transform="translate(217.13 183.2) rotate(-90) scale(1 1)" class="xl">MB0</text>
<line x1="220.2" y1="181" x2="220.2" y2="182.4" class="ax"/>
<text transform="translate(221.38 183.2) rotate(-90) scale(1 1)" class="xl">10C</text>
<line x1="224.45" y1="181" x2="224.45" y2="182.4" class="ax"/>
<text transform="translate(225.63 183.2) rotate(-90) scale(1 1)" class="xl">AN</text>
<line x1="228.7" y1="181" x2="228.7" y2="182.4" class="ax"/>
<text transform="translate(229.88 183.2) rotate(-90) scale(1 1)" class="xl">7</text>
<line x1="232.95" y1="181" x2="232.95" y2="182.4" class="ax"/>
<text transform="translate(234.13 183.2) rotate(-90) scale(1 1)" class="xl">WC</text>
<line x1="237.2" y1="181" x2="237.2" y2="182.4" class="ax"/>
<text transform="translate(238.38 183.2) rotate(-90) scale(1 1)" class="xl">14</text>
<line x1="241.45" y1="181" x2="241.45" y2="182.4" class="ax"/>
<text transform="translate(242.63 183.2) rotate(-90) scale(1 1)" class="xl">WA</text>
<line x1="245.7" y1="181" x2="245.7" y2="182.4" class="ax"/>
<text transform="translate(246.88 183.2) rotate(-90) scale(1 1)" class="xl">10B</text>
<line x1="249.95" y1="181" x2="249.95" y2="182.4" class="ax"/>
<text transform="translate(251.13 183.2) rotate(-90) scale(1 1)" class="xl">12A</text>
<line x1="254.2" y1="181" x2="254.2" y2="182.4" class="ax"/>
<text transform="translate(255.38 183.2) rotate(-90) scale(1 1)" class="xl">10B</text>
<line x1="258.45" y1="181" x2="258.45" y2="182.4" class="ax"/>
<text transform="translate(259.63 183.2) rotate(-90) scale(1 1)" class="xl">12A</text>
<line x1="262.7" y1="181" x2="262.7" y2="182.4" class="ax"/>
<text transform="translate(263.88 183.2) rotate(-90) scale(1 1)" class="xl">13A</text>
<line x1="266.95" y1="181" x2="266.95" y2="182.4" class="ax"/>
<text transform="translate(268.13 183.2) rotate(-90) scale(1 1)" class="xl">1</text>
<line x1="271.2" y1="181" x2="271.2" y2="182.4" class="ax"/>
<text transform="translate(272.38 183.2) rotate(-90) scale(1 1)" class="xl">3</text>
<line x1="275.45" y1="181" x2="275.45" y2="182.4" class="ax"/>
<text transform="translate(276.63 183.2) rotate(-90) scale(1 1)" class="xl">16A</text>
<line x1="279.7" y1="181" x2="279.7" y2="182.4" class="ax"/>
<text transform="translate(280.88 183.2) rotate(-90) scale(1 1)" class="xl">4</text>
<line x1="283.95" y1="181" x2="283.95" y2="182.4" class="ax"/>
<text transform="translate(285.13 183.2) rotate(-90) scale(1 1)" class="xl">11B</text>
<line x1="288.2" y1="181" x2="288.2" y2="182.4" class="ax"/>
<text transform="translate(289.38 183.2) rotate(-90) scale(1 1)" class="xl">2</text>
<line x1="292.45" y1="181" x2="292.45" y2="182.4" class="ax"/>
<text transform="translate(293.63 183.2) rotate(-90) scale(1 1)" class="xl">RCAN</text>
<line x1="296.7" y1="181" x2="296.7" y2="182.4" class="ax"/>
<text transform="translate(297.88 183.2) rotate(-90) scale(1 1)" class="xl">RC2</text>
<line x1="300.95" y1="181" x2="300.95" y2="182.4" class="ax"/>
<text transform="translate(302.13 183.2) rotate(-90) scale(1 1)" class="xl">MCA</text>
<line x1="305.2" y1="181" x2="305.2" y2="182.4" class="ax"/>
<text transform="translate(306.38 183.2) rotate(-90) scale(1 1)" class="xl">MC</text>
<line x1="309.45" y1="181" x2="309.45" y2="182.4" class="ax"/>
<text transform="translate(310.63 183.2) rotate(-90) scale(1 1)" class="xl">MC5</text>
<line x1="313.7" y1="181" x2="313.7" y2="182.4" class="ax"/>
<text transform="translate(314.88 183.2) rotate(-90) scale(1 1)" class="xl">5</text>
<line x1="317.95" y1="181" x2="317.95" y2="182.4" class="ax"/>
<text transform="translate(319.13 183.2) rotate(-90) scale(1 1)" class="xl">10</text>
<line x1="322.2" y1="181" x2="322.2" y2="182.4" class="ax"/>
<text transform="translate(323.38 183.2) rotate(-90) scale(1 1)" class="xl">MC2</text>
<line x1="326.45" y1="181" x2="326.45" y2="182.4" class="ax"/>
<text transform="translate(327.63 183.2) rotate(-90) scale(1 1)" class="xl">MC3</text>
<line x1="330.7" y1="181" x2="330.7" y2="182.4" class="ax"/>
<text transform="translate(331.88 183.2) rotate(-90) scale(1 1)" class="xl">LA</text>
<line x1="334.95" y1="181" x2="334.95" y2="182.4" class="ax"/>
<text transform="translate(336.13 183.2) rotate(-90) scale(1 1)" class="xl">1</text>
<line x1="339.2" y1="181" x2="339.2" y2="182.4" class="ax"/>
<text transform="translate(340.38 183.2) rotate(-90) scale(1 1)" class="xl">7</text>
<line x1="343.45" y1="181" x2="343.45" y2="182.4" class="ax"/>
<text transform="translate(344.63 183.2) rotate(-90) scale(1 1)" class="xl">3</text>
<line x1="347.7" y1="181" x2="347.7" y2="182.4" class="ax"/>
<text transform="translate(348.88 183.2) rotate(-90) scale(1 1)" class="xl">13B</text>
<text transform="translate(181.4 136.15) rotate(-90)" class="yl" textLength="66.5" lengthAdjust="spacingAndGlyphs">Fine Sand (125 - 250 µm)</text>
<rect x="193.25" y="167.4" width="2.9" height="6.2" fill="#c25fb4" stroke="#3a0c38" stroke-width="1"/>
<line x1="193.25" y1="170.4" x2="196.15" y2="170.4" stroke="#3a0c38" stroke-width="0.9"/>
<line x1="198.95" y1="151.1" x2="198.95" y2="156.9" class="wh"/>
<line x1="198.2" y1="151.1" x2="199.7" y2="151.1" class="cap"/>
<line x1="198.95" y1="167.4" x2="198.95" y2="169.3" class="wh"/>
<line x1="198.2" y1="169.3" x2="199.7" y2="169.3" class="cap"/>
<rect x="197.5" y="156.9" width="2.9" height="10.5" fill="#c25fb4" stroke="#3a0c38" stroke-width="1"/>
<line x1="197.5" y1="163.1" x2="200.4" y2="163.1" stroke="#3a0c38" stroke-width="0.9"/>
<rect x="201.75" y="162.9" width="2.9" height="8.8" fill="#c25fb4" stroke="#3a0c38" stroke-width="1"/>
<line x1="201.75" y1="166.4" x2="204.65" y2="166.4" stroke="#3a0c38" stroke-width="0.9"/>
<line x1="207.45" y1="167.9" x2="207.45" y2="172.6" class="wh"/>
<line x1="206.7" y1="172.6" x2="208.2" y2="172.6" class="cap"/>
<rect x="206" y="160.3" width="2.9" height="7.6" fill="#c25fb4" stroke="#3a0c38" stroke-width="1"/>
<line x1="206" y1="164.3" x2="208.9" y2="164.3" stroke="#3a0c38" stroke-width="0.9"/>
<line x1="211.7" y1="159.3" x2="211.7" y2="162.1" class="wh"/>
<line x1="210.95" y1="159.3" x2="212.45" y2="159.3" class="cap"/>
<line x1="211.7" y1="167.1" x2="211.7" y2="168.3" class="wh"/>
<line x1="210.95" y1="168.3" x2="212.45" y2="168.3" class="cap"/>
<rect x="210.25" y="162.1" width="2.9" height="5" fill="#c25fb4" stroke="#3a0c38" stroke-width="1"/>
<line x1="210.25" y1="164.6" x2="213.15" y2="164.6" stroke="#3a0c38" stroke-width="0.9"/>
<rect x="214.5" y="143.6" width="2.9" height="20.7" fill="#c25fb4" stroke="#3a0c38" stroke-width="1"/>
<line x1="214.5" y1="154.3" x2="217.4" y2="154.3" stroke="#3a0c38" stroke-width="0.9"/>
<line x1="220.2" y1="162.1" x2="220.2" y2="164.3" class="wh"/>
<line x1="219.45" y1="164.3" x2="220.95" y2="164.3" class="cap"/>
<rect x="218.75" y="157.1" width="2.9" height="5" fill="#c25fb4" stroke="#3a0c38" stroke-width="1"/>
<line x1="218.75" y1="159.3" x2="221.65" y2="159.3" stroke="#3a0c38" stroke-width="0.9"/>
<rect x="223" y="155.4" width="2.9" height="5.3" fill="#c25fb4" stroke="#3a0c38" stroke-width="1"/>
<line x1="223" y1="157.9" x2="225.9" y2="157.9" stroke="#3a0c38" stroke-width="0.9"/>
<line x1="228.7" y1="142.1" x2="228.7" y2="144" class="wh"/>
<line x1="227.95" y1="142.1" x2="229.45" y2="142.1" class="cap"/>
<line x1="228.7" y1="157.1" x2="228.7" y2="160.7" class="wh"/>
<line x1="227.95" y1="160.7" x2="229.45" y2="160.7" class="cap"/>
<rect x="227.25" y="144" width="2.9" height="13.1" fill="#c25fb4" stroke="#3a0c38" stroke-width="1"/>
<line x1="227.25" y1="148.6" x2="230.15" y2="148.6" stroke="#3a0c38" stroke-width="0.9"/>
<rect x="231.5" y="137.1" width="2.9" height="15.8" fill="#c25fb4" stroke="#3a0c38" stroke-width="1"/>
<line x1="231.5" y1="145.4" x2="234.4" y2="145.4" stroke="#3a0c38" stroke-width="0.9"/>
<line x1="237.2" y1="122.6" x2="237.2" y2="125" class="wh"/>
<line x1="236.45" y1="122.6" x2="237.95" y2="122.6" class="cap"/>
<line x1="237.2" y1="150.5" x2="237.2" y2="152" class="wh"/>
<line x1="236.45" y1="152" x2="237.95" y2="152" class="cap"/>
<rect x="235.75" y="125" width="2.9" height="25.5" fill="#465aac" stroke="#161c4a" stroke-width="1"/>
<line x1="235.75" y1="137.4" x2="238.65" y2="137.4" stroke="#161c4a" stroke-width="0.9"/>
<rect x="240" y="132.9" width="2.9" height="12.1" fill="#465aac" stroke="#161c4a" stroke-width="1"/>
<line x1="240" y1="137.9" x2="242.9" y2="137.9" stroke="#161c4a" stroke-width="0.9"/>
<line x1="245.7" y1="142.6" x2="245.7" y2="145" class="wh"/>
<line x1="244.95" y1="145" x2="246.45" y2="145" class="cap"/>
<rect x="244.25" y="138.3" width="2.9" height="4.3" fill="#465aac" stroke="#161c4a" stroke-width="1"/>
<line x1="244.25" y1="140.5" x2="247.15" y2="140.5" stroke="#161c4a" stroke-width="0.9"/>
<line x1="249.95" y1="115" x2="249.95" y2="122.1" class="wh"/>
<line x1="249.2" y1="115" x2="250.7" y2="115" class="cap"/>
<line x1="249.95" y1="138.6" x2="249.95" y2="141.4" class="wh"/>
<line x1="249.2" y1="141.4" x2="250.7" y2="141.4" class="cap"/>
<rect x="248.5" y="122.1" width="2.9" height="16.5" fill="#465aac" stroke="#161c4a" stroke-width="1"/>
<line x1="248.5" y1="127.9" x2="251.4" y2="127.9" stroke="#161c4a" stroke-width="0.9"/>
<line x1="254.2" y1="118.3" x2="254.2" y2="121.1" class="wh"/>
<line x1="253.45" y1="118.3" x2="254.95" y2="118.3" class="cap"/>
<line x1="254.2" y1="135" x2="254.2" y2="138.6" class="wh"/>
<line x1="253.45" y1="138.6" x2="254.95" y2="138.6" class="cap"/>
<rect x="252.75" y="121.1" width="2.9" height="13.9" fill="#465aac" stroke="#161c4a" stroke-width="1"/>
<line x1="252.75" y1="126.4" x2="255.65" y2="126.4" stroke="#161c4a" stroke-width="0.9"/>
<rect x="257" y="132.1" width="2.9" height="2.9" fill="#465aac" stroke="#161c4a" stroke-width="1"/>
<line x1="257" y1="133.5" x2="259.9" y2="133.5" stroke="#161c4a" stroke-width="0.9"/>
<line x1="262.7" y1="144.3" x2="262.7" y2="145.7" class="wh"/>
<line x1="261.95" y1="145.7" x2="263.45" y2="145.7" class="cap"/>
<rect x="261.25" y="131.4" width="2.9" height="12.9" fill="#465aac" stroke="#161c4a" stroke-width="1"/>
<line x1="261.25" y1="137.1" x2="264.15" y2="137.1" stroke="#161c4a" stroke-width="0.9"/>
<line x1="266.95" y1="151.8" x2="266.95" y2="153.8" class="wh"/>
<line x1="266.2" y1="153.8" x2="267.7" y2="153.8" class="cap"/>
<rect x="265.5" y="134.7" width="2.9" height="17.1" fill="#e22c2c" stroke="#520808" stroke-width="1"/>
<line x1="265.5" y1="140.1" x2="268.4" y2="140.1" stroke="#520808" stroke-width="0.9"/>
<line x1="271.2" y1="119.6" x2="271.2" y2="124.9" class="wh"/>
<line x1="270.45" y1="119.6" x2="271.95" y2="119.6" class="cap"/>
<line x1="271.2" y1="145.5" x2="271.2" y2="147.9" class="wh"/>
<line x1="270.45" y1="147.9" x2="271.95" y2="147.9" class="cap"/>
<rect x="269.75" y="124.9" width="2.9" height="20.6" fill="#e22c2c" stroke="#520808" stroke-width="1"/>
<line x1="269.75" y1="140.9" x2="272.65" y2="140.9" stroke="#520808" stroke-width="0.9"/>
<line x1="275.45" y1="123.8" x2="275.45" y2="125.3" class="wh"/>
<line x1="274.7" y1="125.3" x2="276.2" y2="125.3" class="cap"/>
<rect x="274" y="115.2" width="2.9" height="8.6" fill="#e22c2c" stroke="#520808" stroke-width="1"/>
<line x1="274" y1="119.1" x2="276.9" y2="119.1" stroke="#520808" stroke-width="0.9"/>
<line x1="279.7" y1="117.6" x2="279.7" y2="119.1" class="wh"/>
<line x1="278.95" y1="117.6" x2="280.45" y2="117.6" class="cap"/>
<rect x="278.25" y="119.1" width="2.9" height="7.8" fill="#e22c2c" stroke="#520808" stroke-width="1"/>
<line x1="278.25" y1="122.7" x2="281.15" y2="122.7" stroke="#520808" stroke-width="0.9"/>
<line x1="283.95" y1="119.6" x2="283.95" y2="124.5" class="wh"/>
<line x1="283.2" y1="119.6" x2="284.7" y2="119.6" class="cap"/>
<rect x="282.5" y="124.5" width="2.9" height="7.8" fill="#e22c2c" stroke="#520808" stroke-width="1"/>
<line x1="282.5" y1="128.4" x2="285.4" y2="128.4" stroke="#520808" stroke-width="0.9"/>
<line x1="288.2" y1="118.3" x2="288.2" y2="122.2" class="wh"/>
<line x1="287.45" y1="118.3" x2="288.95" y2="118.3" class="cap"/>
<rect x="286.75" y="122.2" width="2.9" height="8.6" fill="#e22c2c" stroke="#520808" stroke-width="1"/>
<line x1="286.75" y1="126.9" x2="289.65" y2="126.9" stroke="#520808" stroke-width="0.9"/>
<rect x="290.5" y="113.15" width="3.9" height="1.1" fill="#222"/>
<line x1="296.7" y1="123.5" x2="296.7" y2="126.1" class="wh"/>
<line x1="295.95" y1="123.5" x2="297.45" y2="123.5" class="cap"/>
<rect x="295.25" y="126.1" width="2.9" height="8.2" fill="#e22c2c" stroke="#520808" stroke-width="1"/>
<line x1="295.25" y1="130.2" x2="298.15" y2="130.2" stroke="#520808" stroke-width="0.9"/>
<rect x="299" y="108.25" width="3.9" height="1.1" fill="#222"/>
<line x1="305.2" y1="112.3" x2="305.2" y2="113.1" class="wh"/>
<line x1="304.45" y1="112.3" x2="305.95" y2="112.3" class="cap"/>
<line x1="305.2" y1="119.4" x2="305.2" y2="124.9" class="wh"/>
<line x1="304.45" y1="124.9" x2="305.95" y2="124.9" class="cap"/>
<rect x="303.75" y="113.1" width="2.9" height="6.3" fill="#e22c2c" stroke="#520808" stroke-width="1"/>
<line x1="303.75" y1="115.4" x2="306.65" y2="115.4" stroke="#520808" stroke-width="0.9"/>
<rect x="308" y="114.7" width="2.9" height="16.5" fill="#e22c2c" stroke="#520808" stroke-width="1"/>
<line x1="308" y1="122.5" x2="310.9" y2="122.5" stroke="#520808" stroke-width="0.9"/>
<rect x="312.25" y="120.2" width="2.9" height="3.9" fill="#e22c2c" stroke="#520808" stroke-width="1"/>
<line x1="312.25" y1="122.2" x2="315.15" y2="122.2" stroke="#520808" stroke-width="0.9"/>
<line x1="317.95" y1="98.1" x2="317.95" y2="101.3" class="wh"/>
<line x1="317.2" y1="98.1" x2="318.7" y2="98.1" class="cap"/>
<line x1="317.95" y1="134.3" x2="317.95" y2="139.6" class="wh"/>
<line x1="317.2" y1="139.6" x2="318.7" y2="139.6" class="cap"/>
<rect x="316.5" y="101.3" width="2.9" height="33" fill="#e22c2c" stroke="#520808" stroke-width="1"/>
<line x1="316.5" y1="116.2" x2="319.4" y2="116.2" stroke="#520808" stroke-width="0.9"/>
<rect x="320.75" y="104.7" width="2.9" height="2.6" fill="#e22c2c" stroke="#520808" stroke-width="1"/>
<line x1="320.75" y1="106" x2="323.65" y2="106" stroke="#520808" stroke-width="0.9"/>
<rect x="325" y="122.4" width="2.9" height="5.7" fill="#74c252" stroke="#22501a" stroke-width="1"/>
<line x1="325" y1="125.2" x2="327.9" y2="125.2" stroke="#22501a" stroke-width="0.9"/>
<rect x="329.25" y="158.1" width="2.9" height="10.1" fill="#74c252" stroke="#22501a" stroke-width="1"/>
<line x1="329.25" y1="163.5" x2="332.15" y2="163.5" stroke="#22501a" stroke-width="0.9"/>
<line x1="334.95" y1="140.2" x2="334.95" y2="144.9" class="wh"/>
<line x1="334.2" y1="144.9" x2="335.7" y2="144.9" class="cap"/>
<rect x="333.5" y="135.6" width="2.9" height="4.6" fill="#74c252" stroke="#22501a" stroke-width="1"/>
<line x1="333.5" y1="137.9" x2="336.4" y2="137.9" stroke="#22501a" stroke-width="0.9"/>
<line x1="339.2" y1="163.5" x2="339.2" y2="170.5" class="wh"/>
<line x1="338.45" y1="170.5" x2="339.95" y2="170.5" class="cap"/>
<rect x="337.75" y="134.8" width="2.9" height="28.7" fill="#74c252" stroke="#22501a" stroke-width="1"/>
<line x1="337.75" y1="147.2" x2="340.65" y2="147.2" stroke="#22501a" stroke-width="0.9"/>
<line x1="343.45" y1="124.7" x2="343.45" y2="133.2" class="wh"/>
<line x1="342.7" y1="124.7" x2="344.2" y2="124.7" class="cap"/>
<line x1="343.45" y1="158.1" x2="343.45" y2="162" class="wh"/>
<line x1="342.7" y1="162" x2="344.2" y2="162" class="cap"/>
<rect x="342" y="133.2" width="2.9" height="24.9" fill="#74c252" stroke="#22501a" stroke-width="1"/>
<line x1="342" y1="147.2" x2="344.9" y2="147.2" stroke="#22501a" stroke-width="0.9"/>
<line x1="347.7" y1="102.2" x2="347.7" y2="107" class="wh"/>
<line x1="346.95" y1="102.2" x2="348.45" y2="102.2" class="cap"/>
<line x1="347.7" y1="143.2" x2="347.7" y2="152.6" class="wh"/>
<line x1="346.95" y1="152.6" x2="348.45" y2="152.6" class="cap"/>
<rect x="346.25" y="107" width="2.9" height="36.2" fill="#74c252" stroke="#22501a" stroke-width="1"/>
<line x1="346.25" y1="123.3" x2="349.15" y2="123.3" stroke="#22501a" stroke-width="0.9"/>
<line x1="12.7" y1="193.8" x2="12.7" y2="275.6" class="ax"/>
<line x1="11.1" y1="275.3" x2="12.7" y2="275.3" class="ax"/>
<text x="10.8" y="276.65" class="tl">0</text>
<line x1="11.1" y1="259.06" x2="12.7" y2="259.06" class="ax"/>
<text x="10.8" y="260.41" class="tl">10</text>
<line x1="11.1" y1="242.82" x2="12.7" y2="242.82" class="ax"/>
<text x="10.8" y="244.17" class="tl">20</text>
<line x1="11.1" y1="226.58" x2="12.7" y2="226.58" class="ax"/>
<text x="10.8" y="227.93" class="tl">30</text>
<line x1="11.1" y1="210.34" x2="12.7" y2="210.34" class="ax"/>
<text x="10.8" y="211.69" class="tl">40</text>
<line x1="11.1" y1="194.1" x2="12.7" y2="194.1" class="ax"/>
<text x="10.8" y="195.45" class="tl">50</text>
<line x1="16.2" y1="277.2" x2="172.6" y2="277.2" class="ax"/>
<line x1="18.1" y1="277.2" x2="18.1" y2="278.6" class="ax"/>
<text transform="translate(19.28 279.4) rotate(-90) scale(1 1)" class="xl">9</text>
<line x1="22.34" y1="277.2" x2="22.34" y2="278.6" class="ax"/>
<text transform="translate(23.52 279.4) rotate(-90) scale(1 1)" class="xl">10A</text>
<line x1="26.59" y1="277.2" x2="26.59" y2="278.6" class="ax"/>
<text transform="translate(27.76 279.4) rotate(-90) scale(1 1)" class="xl">17</text>
<line x1="30.83" y1="277.2" x2="30.83" y2="278.6" class="ax"/>
<text transform="translate(32.01 279.4) rotate(-90) scale(1 1)" class="xl">10C</text>
<line x1="35.08" y1="277.2" x2="35.08" y2="278.6" class="ax"/>
<text transform="translate(36.25 279.4) rotate(-90) scale(1 1)" class="xl">14A</text>
<line x1="39.32" y1="277.2" x2="39.32" y2="278.6" class="ax"/>
<text transform="translate(40.5 279.4) rotate(-90) scale(1 1)" class="xl">MB0</text>
<line x1="43.56" y1="277.2" x2="43.56" y2="278.6" class="ax"/>
<text transform="translate(44.74 279.4) rotate(-90) scale(1 1)" class="xl">10C</text>
<line x1="47.81" y1="277.2" x2="47.81" y2="278.6" class="ax"/>
<text transform="translate(48.98 279.4) rotate(-90) scale(1 1)" class="xl">AN</text>
<line x1="52.05" y1="277.2" x2="52.05" y2="278.6" class="ax"/>
<text transform="translate(53.23 279.4) rotate(-90) scale(1 1)" class="xl">7</text>
<line x1="56.3" y1="277.2" x2="56.3" y2="278.6" class="ax"/>
<text transform="translate(57.47 279.4) rotate(-90) scale(1 1)" class="xl">WC</text>
<line x1="60.54" y1="277.2" x2="60.54" y2="278.6" class="ax"/>
<text transform="translate(61.72 279.4) rotate(-90) scale(1 1)" class="xl">14</text>
<line x1="64.78" y1="277.2" x2="64.78" y2="278.6" class="ax"/>
<text transform="translate(65.96 279.4) rotate(-90) scale(1 1)" class="xl">WA</text>
<line x1="69.03" y1="277.2" x2="69.03" y2="278.6" class="ax"/>
<text transform="translate(70.2 279.4) rotate(-90) scale(1 1)" class="xl">10B</text>
<line x1="73.27" y1="277.2" x2="73.27" y2="278.6" class="ax"/>
<text transform="translate(74.45 279.4) rotate(-90) scale(1 1)" class="xl">12A</text>
<line x1="77.52" y1="277.2" x2="77.52" y2="278.6" class="ax"/>
<text transform="translate(78.69 279.4) rotate(-90) scale(1 1)" class="xl">10B</text>
<line x1="81.76" y1="277.2" x2="81.76" y2="278.6" class="ax"/>
<text transform="translate(82.94 279.4) rotate(-90) scale(1 1)" class="xl">12A</text>
<line x1="86" y1="277.2" x2="86" y2="278.6" class="ax"/>
<text transform="translate(87.18 279.4) rotate(-90) scale(1 1)" class="xl">13A</text>
<line x1="90.25" y1="277.2" x2="90.25" y2="278.6" class="ax"/>
<text transform="translate(91.42 279.4) rotate(-90) scale(1 1)" class="xl">1</text>
<line x1="94.49" y1="277.2" x2="94.49" y2="278.6" class="ax"/>
<text transform="translate(95.67 279.4) rotate(-90) scale(1 1)" class="xl">3</text>
<line x1="98.74" y1="277.2" x2="98.74" y2="278.6" class="ax"/>
<text transform="translate(99.91 279.4) rotate(-90) scale(1 1)" class="xl">16A</text>
<line x1="102.98" y1="277.2" x2="102.98" y2="278.6" class="ax"/>
<text transform="translate(104.16 279.4) rotate(-90) scale(1 1)" class="xl">4</text>
<line x1="107.22" y1="277.2" x2="107.22" y2="278.6" class="ax"/>
<text transform="translate(108.4 279.4) rotate(-90) scale(1 1)" class="xl">11B</text>
<line x1="111.47" y1="277.2" x2="111.47" y2="278.6" class="ax"/>
<text transform="translate(112.64 279.4) rotate(-90) scale(1 1)" class="xl">2</text>
<line x1="115.71" y1="277.2" x2="115.71" y2="278.6" class="ax"/>
<text transform="translate(116.89 279.4) rotate(-90) scale(1 1)" class="xl">RCAN</text>
<line x1="119.96" y1="277.2" x2="119.96" y2="278.6" class="ax"/>
<text transform="translate(121.13 279.4) rotate(-90) scale(1 1)" class="xl">RC2</text>
<line x1="124.2" y1="277.2" x2="124.2" y2="278.6" class="ax"/>
<text transform="translate(125.38 279.4) rotate(-90) scale(1 1)" class="xl">MCA</text>
<line x1="128.44" y1="277.2" x2="128.44" y2="278.6" class="ax"/>
<text transform="translate(129.62 279.4) rotate(-90) scale(1 1)" class="xl">MC</text>
<line x1="132.69" y1="277.2" x2="132.69" y2="278.6" class="ax"/>
<text transform="translate(133.86 279.4) rotate(-90) scale(1 1)" class="xl">MC5</text>
<line x1="136.93" y1="277.2" x2="136.93" y2="278.6" class="ax"/>
<text transform="translate(138.11 279.4) rotate(-90) scale(1 1)" class="xl">5</text>
<line x1="141.18" y1="277.2" x2="141.18" y2="278.6" class="ax"/>
<text transform="translate(142.35 279.4) rotate(-90) scale(1 1)" class="xl">10</text>
<line x1="145.42" y1="277.2" x2="145.42" y2="278.6" class="ax"/>
<text transform="translate(146.6 279.4) rotate(-90) scale(1 1)" class="xl">MC2</text>
<line x1="149.66" y1="277.2" x2="149.66" y2="278.6" class="ax"/>
<text transform="translate(150.84 279.4) rotate(-90) scale(1 1)" class="xl">MC3</text>
<line x1="153.91" y1="277.2" x2="153.91" y2="278.6" class="ax"/>
<text transform="translate(155.08 279.4) rotate(-90) scale(1 1)" class="xl">LA</text>
<line x1="158.15" y1="277.2" x2="158.15" y2="278.6" class="ax"/>
<text transform="translate(159.33 279.4) rotate(-90) scale(1 1)" class="xl">1</text>
<line x1="162.4" y1="277.2" x2="162.4" y2="278.6" class="ax"/>
<text transform="translate(163.57 279.4) rotate(-90) scale(1 1)" class="xl">7</text>
<line x1="166.64" y1="277.2" x2="166.64" y2="278.6" class="ax"/>
<text transform="translate(167.82 279.4) rotate(-90) scale(1 1)" class="xl">3</text>
<line x1="170.88" y1="277.2" x2="170.88" y2="278.6" class="ax"/>
<text transform="translate(172.06 279.4) rotate(-90) scale(1 1)" class="xl">13B</text>
<text transform="translate(4.8 232.35) rotate(-90)" class="yl" textLength="76.9" lengthAdjust="spacingAndGlyphs">Medium Sand (250 - 500 µm)</text>
<line x1="18.1" y1="259.3" x2="18.1" y2="264.3" class="wh"/>
<line x1="17.35" y1="259.3" x2="18.85" y2="259.3" class="cap"/>
<rect x="16.65" y="264.3" width="2.9" height="8.3" fill="#c25fb4" stroke="#3a0c38" stroke-width="1"/>
<line x1="16.65" y1="269.3" x2="19.55" y2="269.3" stroke="#3a0c38" stroke-width="0.9"/>
<line x1="22.34" y1="259.3" x2="22.34" y2="264" class="wh"/>
<line x1="21.59" y1="259.3" x2="23.09" y2="259.3" class="cap"/>
<line x1="22.34" y1="272.1" x2="22.34" y2="273.6" class="wh"/>
<line x1="21.59" y1="273.6" x2="23.09" y2="273.6" class="cap"/>
<rect x="20.89" y="264" width="2.9" height="8.1" fill="#c25fb4" stroke="#3a0c38" stroke-width="1"/>
<line x1="20.89" y1="267.4" x2="23.79" y2="267.4" stroke="#3a0c38" stroke-width="0.9"/>
<rect x="25.14" y="265" width="2.9" height="4.7" fill="#c25fb4" stroke="#3a0c38" stroke-width="1"/>
<line x1="25.14" y1="267.2" x2="28.04" y2="267.2" stroke="#3a0c38" stroke-width="0.9"/>
<line x1="30.83" y1="270.7" x2="30.83" y2="272.1" class="wh"/>
<line x1="30.08" y1="272.1" x2="31.58" y2="272.1" class="cap"/>
<rect x="29.38" y="265" width="2.9" height="5.7" fill="#c25fb4" stroke="#3a0c38" stroke-width="1"/>
<line x1="29.38" y1="267.9" x2="32.28" y2="267.9" stroke="#3a0c38" stroke-width="0.9"/>
<line x1="35.08" y1="264.3" x2="35.08" y2="266.4" class="wh"/>
<line x1="34.33" y1="264.3" x2="35.83" y2="264.3" class="cap"/>
<rect x="33.63" y="266.4" width="2.9" height="5" fill="#c25fb4" stroke="#3a0c38" stroke-width="1"/>
<line x1="33.63" y1="269.3" x2="36.53" y2="269.3" stroke="#3a0c38" stroke-width="0.9"/>
<rect x="37.87" y="256.4" width="2.9" height="15" fill="#c25fb4" stroke="#3a0c38" stroke-width="1"/>
<line x1="37.87" y1="263.6" x2="40.77" y2="263.6" stroke="#3a0c38" stroke-width="0.9"/>
<line x1="43.56" y1="269.3" x2="43.56" y2="270.7" class="wh"/>
<line x1="42.81" y1="270.7" x2="44.31" y2="270.7" class="cap"/>
<rect x="42.11" y="265" width="2.9" height="4.3" fill="#c25fb4" stroke="#3a0c38" stroke-width="1"/>
<line x1="42.11" y1="267.3" x2="45.01" y2="267.3" stroke="#3a0c38" stroke-width="0.9"/>
<rect x="45.86" y="271.15" width="3.9" height="1.1" fill="#222"/>
<rect x="50.6" y="259.3" width="2.9" height="8.6" fill="#c25fb4" stroke="#3a0c38" stroke-width="1"/>
<line x1="50.6" y1="263.1" x2="53.5" y2="263.1" stroke="#3a0c38" stroke-width="0.9"/>
<rect x="54.85" y="250.7" width="2.9" height="17.2" fill="#c25fb4" stroke="#3a0c38" stroke-width="1"/>
<line x1="54.85" y1="260.7" x2="57.75" y2="260.7" stroke="#3a0c38" stroke-width="0.9"/>
<line x1="60.54" y1="250.9" x2="60.54" y2="252" class="wh"/>
<line x1="59.79" y1="250.9" x2="61.29" y2="250.9" class="cap"/>
<line x1="60.54" y1="262.6" x2="60.54" y2="264.3" class="wh"/>
<line x1="59.79" y1="264.3" x2="61.29" y2="264.3" class="cap"/>
<rect x="59.09" y="252" width="2.9" height="10.6" fill="#465aac" stroke="#161c4a" stroke-width="1"/>
<line x1="59.09" y1="257.2" x2="61.99" y2="257.2" stroke="#161c4a" stroke-width="0.9"/>
<rect x="62.83" y="265.65" width="3.9" height="1.1" fill="#222"/>
<line x1="69.03" y1="251.1" x2="69.03" y2="255" class="wh"/>
<line x1="68.28" y1="255" x2="69.78" y2="255" class="cap"/>
<rect x="67.58" y="239.9" width="2.9" height="11.2" fill="#465aac" stroke="#161c4a" stroke-width="1"/>
<line x1="67.58" y1="244.9" x2="70.48" y2="244.9" stroke="#161c4a" stroke-width="0.9"/>
<line x1="73.27" y1="230.1" x2="73.27" y2="243.3" class="wh"/>
<line x1="72.52" y1="230.1" x2="74.02" y2="230.1" class="cap"/>
<line x1="73.27" y1="262" x2="73.27" y2="265.1" class="wh"/>
<line x1="72.52" y1="265.1" x2="74.02" y2="265.1" class="cap"/>
<rect x="71.82" y="243.3" width="2.9" height="18.7" fill="#465aac" stroke="#161c4a" stroke-width="1"/>
<line x1="71.82" y1="257.3" x2="74.72" y2="257.3" stroke="#161c4a" stroke-width="0.9"/>
<line x1="77.52" y1="244.9" x2="77.52" y2="251.1" class="wh"/>
<line x1="76.77" y1="244.9" x2="78.27" y2="244.9" class="cap"/>
<line x1="77.52" y1="262.3" x2="77.52" y2="265.1" class="wh"/>
<line x1="76.77" y1="265.1" x2="78.27" y2="265.1" class="cap"/>
<rect x="76.07" y="251.1" width="2.9" height="11.2" fill="#465aac" stroke="#161c4a" stroke-width="1"/>
<line x1="76.07" y1="257.3" x2="78.97" y2="257.3" stroke="#161c4a" stroke-width="0.9"/>
<rect x="80.31" y="251.9" width="2.9" height="7" fill="#465aac" stroke="#161c4a" stroke-width="1"/>
<line x1="80.31" y1="256.1" x2="83.21" y2="256.1" stroke="#161c4a" stroke-width="0.9"/>
<line x1="86" y1="265.1" x2="86" y2="266.7" class="wh"/>
<line x1="85.25" y1="266.7" x2="86.75" y2="266.7" class="cap"/>
<rect x="84.55" y="251.9" width="2.9" height="13.2" fill="#465aac" stroke="#161c4a" stroke-width="1"/>
<line x1="84.55" y1="257.3" x2="87.45" y2="257.3" stroke="#161c4a" stroke-width="0.9"/>
<line x1="90.25" y1="235.6" x2="90.25" y2="237.9" class="wh"/>
<line x1="89.5" y1="235.6" x2="91" y2="235.6" class="cap"/>
<line x1="90.25" y1="245.7" x2="90.25" y2="248.8" class="wh"/>
<line x1="89.5" y1="248.8" x2="91" y2="248.8" class="cap"/>
<rect x="88.8" y="237.9" width="2.9" height="7.8" fill="#e22c2c" stroke="#520808" stroke-width="1"/>
<line x1="88.8" y1="241.5" x2="91.7" y2="241.5" stroke="#520808" stroke-width="0.9"/>
<rect x="93.04" y="235.8" width="2.9" height="2" fill="#e22c2c" stroke="#520808" stroke-width="1"/>
<line x1="93.04" y1="236.8" x2="95.94" y2="236.8" stroke="#520808" stroke-width="0.9"/>
<line x1="98.74" y1="228.8" x2="98.74" y2="236.5" class="wh"/>
<line x1="97.99" y1="228.8" x2="99.49" y2="228.8" class="cap"/>
<rect x="97.29" y="236.5" width="2.9" height="18.7" fill="#e22c2c" stroke="#520808" stroke-width="1"/>
<line x1="97.29" y1="247.5" x2="100.19" y2="247.5" stroke="#520808" stroke-width="0.9"/>
<line x1="102.98" y1="232" x2="102.98" y2="236.2" class="wh"/>
<line x1="102.23" y1="232" x2="103.73" y2="232" class="cap"/>
<rect x="101.53" y="236.2" width="2.9" height="10" fill="#e22c2c" stroke="#520808" stroke-width="1"/>
<line x1="101.53" y1="241.2" x2="104.43" y2="241.2" stroke="#520808" stroke-width="0.9"/>
<line x1="107.22" y1="247.4" x2="107.22" y2="249.8" class="wh"/>
<line x1="106.47" y1="249.8" x2="107.97" y2="249.8" class="cap"/>
<rect x="105.77" y="240.7" width="2.9" height="6.7" fill="#e22c2c" stroke="#520808" stroke-width="1"/>
<line x1="105.77" y1="243.5" x2="108.67" y2="243.5" stroke="#520808" stroke-width="0.9"/>
<line x1="111.47" y1="226.1" x2="111.47" y2="228.8" class="wh"/>
<line x1="110.72" y1="226.1" x2="112.22" y2="226.1" class="cap"/>
<rect x="110.02" y="228.8" width="2.9" height="4.6" fill="#e22c2c" stroke="#520808" stroke-width="1"/>
<line x1="110.02" y1="231.1" x2="112.92" y2="231.1" stroke="#520808" stroke-width="0.9"/>
<rect x="113.76" y="249.55" width="3.9" height="1.1" fill="#222"/>
<line x1="119.96" y1="229.9" x2="119.96" y2="234.2" class="wh"/>
<line x1="119.21" y1="229.9" x2="120.71" y2="229.9" class="cap"/>
<rect x="118.51" y="234.2" width="2.9" height="6.2" fill="#e22c2c" stroke="#520808" stroke-width="1"/>
<line x1="118.51" y1="237.3" x2="121.41" y2="237.3" stroke="#520808" stroke-width="0.9"/>
<rect x="122.25" y="251.55" width="3.9" height="1.1" fill="#222"/>
<line x1="128.44" y1="245.9" x2="128.44" y2="248.2" class="wh"/>
<line x1="127.69" y1="248.2" x2="129.19" y2="248.2" class="cap"/>
<rect x="126.99" y="230.3" width="2.9" height="15.6" fill="#e22c2c" stroke="#520808" stroke-width="1"/>
<line x1="126.99" y1="236.1" x2="129.89" y2="236.1" stroke="#520808" stroke-width="0.9"/>
<rect x="130.74" y="224.05" width="3.9" height="1.1" fill="#222"/>
<line x1="136.93" y1="211.7" x2="136.93" y2="214.3" class="wh"/>
<line x1="136.18" y1="211.7" x2="137.68" y2="211.7" class="cap"/>
<rect x="135.48" y="214.3" width="2.9" height="9.8" fill="#e22c2c" stroke="#520808" stroke-width="1"/>
<line x1="135.48" y1="218.4" x2="138.38" y2="218.4" stroke="#520808" stroke-width="0.9"/>
<line x1="141.18" y1="217.4" x2="141.18" y2="219.9" class="wh"/>
<line x1="140.43" y1="217.4" x2="141.93" y2="217.4" class="cap"/>
<line x1="141.18" y1="233.9" x2="141.18" y2="237.3" class="wh"/>
<line x1="140.43" y1="237.3" x2="141.93" y2="237.3" class="cap"/>
<rect x="139.73" y="219.9" width="2.9" height="14" fill="#e22c2c" stroke="#520808" stroke-width="1"/>
<line x1="139.73" y1="226.4" x2="142.63" y2="226.4" stroke="#520808" stroke-width="0.9"/>
<rect x="143.97" y="234.1" width="2.9" height="7.4" fill="#e22c2c" stroke="#520808" stroke-width="1"/>
<line x1="143.97" y1="237.8" x2="146.87" y2="237.8" stroke="#520808" stroke-width="0.9"/>
<rect x="147.71" y="210.35" width="3.9" height="1.1" fill="#222"/>
<line x1="153.91" y1="200.9" x2="153.91" y2="210.9" class="wh"/>
<line x1="153.16" y1="200.9" x2="154.66" y2="200.9" class="cap"/>
<line x1="153.91" y1="230.5" x2="153.91" y2="237.8" class="wh"/>
<line x1="153.16" y1="237.8" x2="154.66" y2="237.8" class="cap"/>
<rect x="152.46" y="210.9" width="2.9" height="19.6" fill="#74c252" stroke="#22501a" stroke-width="1"/>
<line x1="152.46" y1="222.2" x2="155.36" y2="222.2" stroke="#22501a" stroke-width="0.9"/>
<line x1="158.15" y1="217.6" x2="158.15" y2="224.2" class="wh"/>
<line x1="157.4" y1="217.6" x2="158.9" y2="217.6" class="cap"/>
<rect x="156.7" y="224.2" width="2.9" height="13.1" fill="#74c252" stroke="#22501a" stroke-width="1"/>
<line x1="156.7" y1="229.2" x2="159.6" y2="229.2" stroke="#22501a" stroke-width="0.9"/>
<line x1="162.4" y1="196.2" x2="162.4" y2="202" class="wh"/>
<line x1="161.65" y1="196.2" x2="163.15" y2="196.2" class="cap"/>
<line x1="162.4" y1="223.8" x2="162.4" y2="235.4" class="wh"/>
<line x1="161.65" y1="235.4" x2="163.15" y2="235.4" class="cap"/>
<rect x="160.95" y="202" width="2.9" height="21.8" fill="#74c252" stroke="#22501a" stroke-width="1"/>
<line x1="160.95" y1="210.6" x2="163.85" y2="210.6" stroke="#22501a" stroke-width="0.9"/>
<line x1="166.64" y1="208.7" x2="166.64" y2="216" class="wh"/>
<line x1="165.89" y1="208.7" x2="167.39" y2="208.7" class="cap"/>
<line x1="166.64" y1="226.9" x2="166.64" y2="228.4" class="wh"/>
<line x1="165.89" y1="228.4" x2="167.39" y2="228.4" class="cap"/>
<rect x="165.19" y="216" width="2.9" height="10.9" fill="#74c252" stroke="#22501a" stroke-width="1"/>
<line x1="165.19" y1="221.1" x2="168.09" y2="221.1" stroke="#22501a" stroke-width="0.9"/>
<line x1="170.88" y1="216.8" x2="170.88" y2="219.6" class="wh"/>
<line x1="170.13" y1="216.8" x2="171.63" y2="216.8" class="cap"/>
<line x1="170.88" y1="232.3" x2="170.88" y2="237.3" class="wh"/>
<line x1="170.13" y1="237.3" x2="171.63" y2="237.3" class="cap"/>
<rect x="169.43" y="219.6" width="2.9" height="12.7" fill="#74c252" stroke="#22501a" stroke-width="1"/>
<line x1="169.43" y1="226.1" x2="172.33" y2="226.1" stroke="#22501a" stroke-width="0.9"/>
<line x1="189.6" y1="193.9" x2="189.6" y2="275.3" class="ax"/>
<line x1="188" y1="275" x2="189.6" y2="275" class="ax"/>
<text x="187.7" y="276.35" class="tl">0</text>
<line x1="188" y1="258.84" x2="189.6" y2="258.84" class="ax"/>
<text x="187.7" y="260.19" class="tl">10</text>
<line x1="188" y1="242.68" x2="189.6" y2="242.68" class="ax"/>
<text x="187.7" y="244.03" class="tl">20</text>
<line x1="188" y1="226.52" x2="189.6" y2="226.52" class="ax"/>
<text x="187.7" y="227.87" class="tl">30</text>
<line x1="188" y1="210.36" x2="189.6" y2="210.36" class="ax"/>
<text x="187.7" y="211.71" class="tl">40</text>
<line x1="188" y1="194.2" x2="189.6" y2="194.2" class="ax"/>
<text x="187.7" y="195.55" class="tl">50</text>
<line x1="192.6" y1="276.6" x2="349.5" y2="276.6" class="ax"/>
<line x1="194.7" y1="276.6" x2="194.7" y2="278" class="ax"/>
<text transform="translate(195.88 278.8) rotate(-90) scale(1 1)" class="xl">9</text>
<line x1="198.95" y1="276.6" x2="198.95" y2="278" class="ax"/>
<text transform="translate(200.13 278.8) rotate(-90) scale(1 1)" class="xl">10A</text>
<line x1="203.2" y1="276.6" x2="203.2" y2="278" class="ax"/>
<text transform="translate(204.38 278.8) rotate(-90) scale(1 1)" class="xl">17</text>
<line x1="207.45" y1="276.6" x2="207.45" y2="278" class="ax"/>
<text transform="translate(208.63 278.8) rotate(-90) scale(1 1)" class="xl">10C</text>
<line x1="211.7" y1="276.6" x2="211.7" y2="278" class="ax"/>
<text transform="translate(212.88 278.8) rotate(-90) scale(1 1)" class="xl">14A</text>
<line x1="215.95" y1="276.6" x2="215.95" y2="278" class="ax"/>
<text transform="translate(217.13 278.8) rotate(-90) scale(1 1)" class="xl">MB0</text>
<line x1="220.2" y1="276.6" x2="220.2" y2="278" class="ax"/>
<text transform="translate(221.38 278.8) rotate(-90) scale(1 1)" class="xl">10C</text>
<line x1="224.45" y1="276.6" x2="224.45" y2="278" class="ax"/>
<text transform="translate(225.63 278.8) rotate(-90) scale(1 1)" class="xl">AN</text>
<line x1="228.7" y1="276.6" x2="228.7" y2="278" class="ax"/>
<text transform="translate(229.88 278.8) rotate(-90) scale(1 1)" class="xl">7</text>
<line x1="232.95" y1="276.6" x2="232.95" y2="278" class="ax"/>
<text transform="translate(234.13 278.8) rotate(-90) scale(1 1)" class="xl">WC</text>
<line x1="237.2" y1="276.6" x2="237.2" y2="278" class="ax"/>
<text transform="translate(238.38 278.8) rotate(-90) scale(1 1)" class="xl">14</text>
<line x1="241.45" y1="276.6" x2="241.45" y2="278" class="ax"/>
<text transform="translate(242.63 278.8) rotate(-90) scale(1 1)" class="xl">WA</text>
<line x1="245.7" y1="276.6" x2="245.7" y2="278" class="ax"/>
<text transform="translate(246.88 278.8) rotate(-90) scale(1 1)" class="xl">10B</text>
<line x1="249.95" y1="276.6" x2="249.95" y2="278" class="ax"/>
<text transform="translate(251.13 278.8) rotate(-90) scale(1 1)" class="xl">12A</text>
<line x1="254.2" y1="276.6" x2="254.2" y2="278" class="ax"/>
<text transform="translate(255.38 278.8) rotate(-90) scale(1 1)" class="xl">10B</text>
<line x1="258.45" y1="276.6" x2="258.45" y2="278" class="ax"/>
<text transform="translate(259.63 278.8) rotate(-90) scale(1 1)" class="xl">12A</text>
<line x1="262.7" y1="276.6" x2="262.7" y2="278" class="ax"/>
<text transform="translate(263.88 278.8) rotate(-90) scale(1 1)" class="xl">13A</text>
<line x1="266.95" y1="276.6" x2="266.95" y2="278" class="ax"/>
<text transform="translate(268.13 278.8) rotate(-90) scale(1 1)" class="xl">1</text>
<line x1="271.2" y1="276.6" x2="271.2" y2="278" class="ax"/>
<text transform="translate(272.38 278.8) rotate(-90) scale(1 1)" class="xl">3</text>
<line x1="275.45" y1="276.6" x2="275.45" y2="278" class="ax"/>
<text transform="translate(276.63 278.8) rotate(-90) scale(1 1)" class="xl">16A</text>
<line x1="279.7" y1="276.6" x2="279.7" y2="278" class="ax"/>
<text transform="translate(280.88 278.8) rotate(-90) scale(1 1)" class="xl">4</text>
<line x1="283.95" y1="276.6" x2="283.95" y2="278" class="ax"/>
<text transform="translate(285.13 278.8) rotate(-90) scale(1 1)" class="xl">11B</text>
<line x1="288.2" y1="276.6" x2="288.2" y2="278" class="ax"/>
<text transform="translate(289.38 278.8) rotate(-90) scale(1 1)" class="xl">2</text>
<line x1="292.45" y1="276.6" x2="292.45" y2="278" class="ax"/>
<text transform="translate(293.63 278.8) rotate(-90) scale(1 1)" class="xl">RCAN</text>
<line x1="296.7" y1="276.6" x2="296.7" y2="278" class="ax"/>
<text transform="translate(297.88 278.8) rotate(-90) scale(1 1)" class="xl">RC2</text>
<line x1="300.95" y1="276.6" x2="300.95" y2="278" class="ax"/>
<text transform="translate(302.13 278.8) rotate(-90) scale(1 1)" class="xl">MCA</text>
<line x1="305.2" y1="276.6" x2="305.2" y2="278" class="ax"/>
<text transform="translate(306.38 278.8) rotate(-90) scale(1 1)" class="xl">MC</text>
<line x1="309.45" y1="276.6" x2="309.45" y2="278" class="ax"/>
<text transform="translate(310.63 278.8) rotate(-90) scale(1 1)" class="xl">MC5</text>
<line x1="313.7" y1="276.6" x2="313.7" y2="278" class="ax"/>
<text transform="translate(314.88 278.8) rotate(-90) scale(1 1)" class="xl">5</text>
<line x1="317.95" y1="276.6" x2="317.95" y2="278" class="ax"/>
<text transform="translate(319.13 278.8) rotate(-90) scale(1 1)" class="xl">10</text>
<line x1="322.2" y1="276.6" x2="322.2" y2="278" class="ax"/>
<text transform="translate(323.38 278.8) rotate(-90) scale(1 1)" class="xl">MC2</text>
<line x1="326.45" y1="276.6" x2="326.45" y2="278" class="ax"/>
<text transform="translate(327.63 278.8) rotate(-90) scale(1 1)" class="xl">MC3</text>
<line x1="330.7" y1="276.6" x2="330.7" y2="278" class="ax"/>
<text transform="translate(331.88 278.8) rotate(-90) scale(1 1)" class="xl">LA</text>
<line x1="334.95" y1="276.6" x2="334.95" y2="278" class="ax"/>
<text transform="translate(336.13 278.8) rotate(-90) scale(1 1)" class="xl">1</text>
<line x1="339.2" y1="276.6" x2="339.2" y2="278" class="ax"/>
<text transform="translate(340.38 278.8) rotate(-90) scale(1 1)" class="xl">7</text>
<line x1="343.45" y1="276.6" x2="343.45" y2="278" class="ax"/>
<text transform="translate(344.63 278.8) rotate(-90) scale(1 1)" class="xl">3</text>
<line x1="347.7" y1="276.6" x2="347.7" y2="278" class="ax"/>
<text transform="translate(348.88 278.8) rotate(-90) scale(1 1)" class="xl">13B</text>
<text transform="translate(181.4 234.45) rotate(-90)" class="yl" textLength="77.9" lengthAdjust="spacingAndGlyphs">Coarse Sand (500 - 1000 µm)</text>
<line x1="194.7" y1="269.6" x2="194.7" y2="271.9" class="wh"/>
<line x1="193.95" y1="269.6" x2="195.45" y2="269.6" class="cap"/>
<rect x="193.25" y="271.9" width="2.9" height="2.5" fill="#c25fb4" stroke="#3a0c38" stroke-width="1"/>
<line x1="193.25" y1="273.1" x2="196.15" y2="273.1" stroke="#3a0c38" stroke-width="0.9"/>
<rect x="197" y="273.85" width="3.9" height="1.1" fill="#222"/>
<rect x="201.75" y="270.8" width="2.9" height="2.5" fill="#c25fb4" stroke="#3a0c38" stroke-width="1"/>
<line x1="201.75" y1="272" x2="204.65" y2="272" stroke="#3a0c38" stroke-width="0.9"/>
<rect x="205.5" y="273.65" width="3.9" height="1.1" fill="#222"/>
<rect x="210.25" y="273.3" width="2.9" height="1.1" fill="#c25fb4" stroke="#3a0c38" stroke-width="1"/>
<line x1="210.25" y1="273.8" x2="213.15" y2="273.8" stroke="#3a0c38" stroke-width="0.9"/>
<rect x="214.5" y="272.1" width="2.9" height="2.3" fill="#c25fb4" stroke="#3a0c38" stroke-width="1"/>
<line x1="214.5" y1="273.2" x2="217.4" y2="273.2" stroke="#3a0c38" stroke-width="0.9"/>
<rect x="218.25" y="273.85" width="3.9" height="1.1" fill="#222"/>
<rect x="222.5" y="274.15" width="3.9" height="1.1" fill="#222"/>
<rect x="227.25" y="272.2" width="2.9" height="1.4" fill="#c25fb4" stroke="#3a0c38" stroke-width="1"/>
<line x1="227.25" y1="272.9" x2="230.15" y2="272.9" stroke="#3a0c38" stroke-width="0.9"/>
<rect x="231" y="272.45" width="3.9" height="1.1" fill="#222"/>
<rect x="235.25" y="272.75" width="3.9" height="1.1" fill="#222"/>
<rect x="239.5" y="273.55" width="3.9" height="1.1" fill="#222"/>
<line x1="245.7" y1="256.4" x2="245.7" y2="258.7" class="wh"/>
<line x1="244.95" y1="256.4" x2="246.45" y2="256.4" class="cap"/>
<line x1="245.7" y1="270.4" x2="245.7" y2="272.2" class="wh"/>
<line x1="244.95" y1="272.2" x2="246.45" y2="272.2" class="cap"/>
<rect x="244.25" y="258.7" width="2.9" height="11.7" fill="#465aac" stroke="#161c4a" stroke-width="1"/>
<line x1="244.25" y1="264.4" x2="247.15" y2="264.4" stroke="#161c4a" stroke-width="0.9"/>
<line x1="249.95" y1="267.9" x2="249.95" y2="270.4" class="wh"/>
<line x1="249.2" y1="267.9" x2="250.7" y2="267.9" class="cap"/>
<rect x="248.5" y="270.4" width="2.9" height="3.2" fill="#465aac" stroke="#161c4a" stroke-width="1"/>
<line x1="248.5" y1="272" x2="251.4" y2="272" stroke="#161c4a" stroke-width="0.9"/>
<line x1="254.2" y1="266.1" x2="254.2" y2="269.6" class="wh"/>
<line x1="253.45" y1="266.1" x2="254.95" y2="266.1" class="cap"/>
<rect x="252.75" y="269.6" width="2.9" height="5.4" fill="#465aac" stroke="#161c4a" stroke-width="1"/>
<line x1="252.75" y1="272.4" x2="255.65" y2="272.4" stroke="#161c4a" stroke-width="0.9"/>
<rect x="257" y="271.9" width="2.9" height="2.2" fill="#465aac" stroke="#161c4a" stroke-width="1"/>
<line x1="257" y1="273" x2="259.9" y2="273" stroke="#161c4a" stroke-width="0.9"/>
<rect x="261.25" y="271.1" width="2.9" height="3.9" fill="#465aac" stroke="#161c4a" stroke-width="1"/>
<line x1="261.25" y1="273" x2="264.15" y2="273" stroke="#161c4a" stroke-width="0.9"/>
<line x1="266.95" y1="248.6" x2="266.95" y2="250.7" class="wh"/>
<line x1="266.2" y1="248.6" x2="267.7" y2="248.6" class="cap"/>
<rect x="265.5" y="250.7" width="2.9" height="4.7" fill="#e22c2c" stroke="#520808" stroke-width="1"/>
<line x1="265.5" y1="252.9" x2="268.4" y2="252.9" stroke="#520808" stroke-width="0.9"/>
<rect x="269.75" y="260" width="2.9" height="4" fill="#e22c2c" stroke="#520808" stroke-width="1"/>
<line x1="269.75" y1="262" x2="272.65" y2="262" stroke="#520808" stroke-width="0.9"/>
<line x1="275.45" y1="266.4" x2="275.45" y2="268.9" class="wh"/>
<line x1="274.7" y1="266.4" x2="276.2" y2="266.4" class="cap"/>
<rect x="274" y="268.9" width="2.9" height="5.4" fill="#e22c2c" stroke="#520808" stroke-width="1"/>
<line x1="274" y1="271.4" x2="276.9" y2="271.4" stroke="#520808" stroke-width="0.9"/>
<line x1="279.7" y1="257.1" x2="279.7" y2="262.6" class="wh"/>
<line x1="278.95" y1="257.1" x2="280.45" y2="257.1" class="cap"/>
<rect x="278.25" y="262.6" width="2.9" height="11" fill="#e22c2c" stroke="#520808" stroke-width="1"/>
<line x1="278.25" y1="267.9" x2="281.15" y2="267.9" stroke="#520808" stroke-width="0.9"/>
<line x1="283.95" y1="267.9" x2="283.95" y2="269.3" class="wh"/>
<line x1="283.2" y1="269.3" x2="284.7" y2="269.3" class="cap"/>
<rect x="282.5" y="258.6" width="2.9" height="9.3" fill="#e22c2c" stroke="#520808" stroke-width="1"/>
<line x1="282.5" y1="263.6" x2="285.4" y2="263.6" stroke="#520808" stroke-width="0.9"/>
<line x1="288.2" y1="260.7" x2="288.2" y2="263.6" class="wh"/>
<line x1="287.45" y1="263.6" x2="288.95" y2="263.6" class="cap"/>
<rect x="286.75" y="256.4" width="2.9" height="4.3" fill="#e22c2c" stroke="#520808" stroke-width="1"/>
<line x1="286.75" y1="258.5" x2="289.65" y2="258.5" stroke="#520808" stroke-width="0.9"/>
<rect x="290.5" y="272.55" width="3.9" height="1.1" fill="#222"/>
<line x1="296.7" y1="250.3" x2="296.7" y2="255.7" class="wh"/>
<line x1="295.95" y1="250.3" x2="297.45" y2="250.3" class="cap"/>
<rect x="295.25" y="255.7" width="2.9" height="6" fill="#e22c2c" stroke="#520808" stroke-width="1"/>
<line x1="295.25" y1="258.7" x2="298.15" y2="258.7" stroke="#520808" stroke-width="0.9"/>
<rect x="299" y="273.05" width="3.9" height="1.1" fill="#222"/>
<line x1="305.2" y1="251.1" x2="305.2" y2="257.9" class="wh"/>
<line x1="304.45" y1="251.1" x2="305.95" y2="251.1" class="cap"/>
<rect x="303.75" y="257.9" width="2.9" height="10.1" fill="#e22c2c" stroke="#520808" stroke-width="1"/>
<line x1="303.75" y1="263.6" x2="306.65" y2="263.6" stroke="#520808" stroke-width="0.9"/>
<rect x="308" y="252.1" width="2.9" height="15.1" fill="#e22c2c" stroke="#520808" stroke-width="1"/>
<line x1="308" y1="259.3" x2="310.9" y2="259.3" stroke="#520808" stroke-width="0.9"/>
<line x1="313.7" y1="255.5" x2="313.7" y2="257.8" class="wh"/>
<line x1="312.95" y1="255.5" x2="314.45" y2="255.5" class="cap"/>
<rect x="312.25" y="257.8" width="2.9" height="4.4" fill="#e22c2c" stroke="#520808" stroke-width="1"/>
<line x1="312.25" y1="260" x2="315.15" y2="260" stroke="#520808" stroke-width="0.9"/>
<line x1="317.95" y1="240.8" x2="317.95" y2="243.9" class="wh"/>
<line x1="317.2" y1="240.8" x2="318.7" y2="240.8" class="cap"/>
<rect x="316.5" y="243.9" width="2.9" height="30.4" fill="#e22c2c" stroke="#520808" stroke-width="1"/>
<line x1="316.5" y1="260.6" x2="319.4" y2="260.6" stroke="#520808" stroke-width="0.9"/>
<rect x="320.25" y="268.85" width="3.9" height="1.1" fill="#222"/>
<rect x="325" y="251.2" width="2.9" height="5.5" fill="#74c252" stroke="#22501a" stroke-width="1"/>
<line x1="325" y1="253.9" x2="327.9" y2="253.9" stroke="#22501a" stroke-width="0.9"/>
<line x1="330.7" y1="213.7" x2="330.7" y2="217" class="wh"/>
<line x1="329.95" y1="213.7" x2="331.45" y2="213.7" class="cap"/>
<rect x="329.25" y="217" width="2.9" height="7.7" fill="#74c252" stroke="#22501a" stroke-width="1"/>
<line x1="329.25" y1="220.8" x2="332.15" y2="220.8" stroke="#22501a" stroke-width="0.9"/>
<line x1="334.95" y1="241.3" x2="334.95" y2="246.1" class="wh"/>
<line x1="334.2" y1="241.3" x2="335.7" y2="241.3" class="cap"/>
<line x1="334.95" y1="256.7" x2="334.95" y2="258.5" class="wh"/>
<line x1="334.2" y1="258.5" x2="335.7" y2="258.5" class="cap"/>
<rect x="333.5" y="246.1" width="2.9" height="10.6" fill="#74c252" stroke="#22501a" stroke-width="1"/>
<line x1="333.5" y1="251.8" x2="336.4" y2="251.8" stroke="#22501a" stroke-width="0.9"/>
<line x1="339.2" y1="207.1" x2="339.2" y2="215.9" class="wh"/>
<line x1="338.45" y1="207.1" x2="339.95" y2="207.1" class="cap"/>
<line x1="339.2" y1="249" x2="339.2" y2="254" class="wh"/>
<line x1="338.45" y1="254" x2="339.95" y2="254" class="cap"/>
<rect x="337.75" y="215.9" width="2.9" height="33.1" fill="#74c252" stroke="#22501a" stroke-width="1"/>
<line x1="337.75" y1="234.6" x2="340.65" y2="234.6" stroke="#22501a" stroke-width="0.9"/>
<line x1="343.45" y1="217" x2="343.45" y2="223.2" class="wh"/>
<line x1="342.7" y1="217" x2="344.2" y2="217" class="cap"/>
<line x1="343.45" y1="249" x2="343.45" y2="253.3" class="wh"/>
<line x1="342.7" y1="253.3" x2="344.2" y2="253.3" class="cap"/>
<rect x="342" y="223.2" width="2.9" height="25.8" fill="#74c252" stroke="#22501a" stroke-width="1"/>
<line x1="342" y1="237.3" x2="344.9" y2="237.3" stroke="#22501a" stroke-width="0.9"/>
<line x1="347.7" y1="238" x2="347.7" y2="241.3" class="wh"/>
<line x1="346.95" y1="238" x2="348.45" y2="238" class="cap"/>
<line x1="347.7" y1="267.2" x2="347.7" y2="272.1" class="wh"/>
<line x1="346.95" y1="272.1" x2="348.45" y2="272.1" class="cap"/>
<rect x="346.25" y="241.3" width="2.9" height="25.9" fill="#74c252" stroke="#22501a" stroke-width="1"/>
<line x1="346.25" y1="253.4" x2="349.15" y2="253.4" stroke="#22501a" stroke-width="0.9"/>
<line x1="12.7" y1="289.8" x2="12.7" y2="371.4" class="ax"/>
<line x1="11.1" y1="371.1" x2="12.7" y2="371.1" class="ax"/>
<text x="10.8" y="372.45" class="tl">0</text>
<line x1="11.1" y1="354.9" x2="12.7" y2="354.9" class="ax"/>
<text x="10.8" y="356.25" class="tl">5</text>
<line x1="11.1" y1="338.7" x2="12.7" y2="338.7" class="ax"/>
<text x="10.8" y="340.05" class="tl">10</text>
<line x1="11.1" y1="322.5" x2="12.7" y2="322.5" class="ax"/>
<text x="10.8" y="323.85" class="tl">15</text>
<line x1="11.1" y1="306.3" x2="12.7" y2="306.3" class="ax"/>
<text x="10.8" y="307.65" class="tl">20</text>
<line x1="11.1" y1="290.1" x2="12.7" y2="290.1" class="ax"/>
<text x="10.8" y="291.45" class="tl">25</text>
<line x1="16" y1="373.1" x2="172.6" y2="373.1" class="ax"/>
<line x1="18.1" y1="373.1" x2="18.1" y2="374.5" class="ax"/>
<text transform="translate(19.28 375.3) rotate(-90) scale(1 1)" class="xl">9</text>
<line x1="22.34" y1="373.1" x2="22.34" y2="374.5" class="ax"/>
<text transform="translate(23.52 375.3) rotate(-90) scale(1 1)" class="xl">10A</text>
<line x1="26.59" y1="373.1" x2="26.59" y2="374.5" class="ax"/>
<text transform="translate(27.76 375.3) rotate(-90) scale(1 1)" class="xl">17</text>
<line x1="30.83" y1="373.1" x2="30.83" y2="374.5" class="ax"/>
<text transform="translate(32.01 375.3) rotate(-90) scale(1 1)" class="xl">10C</text>
<line x1="35.08" y1="373.1" x2="35.08" y2="374.5" class="ax"/>
<text transform="translate(36.25 375.3) rotate(-90) scale(1 1)" class="xl">14A</text>
<line x1="39.32" y1="373.1" x2="39.32" y2="374.5" class="ax"/>
<text transform="translate(40.5 375.3) rotate(-90) scale(1 1)" class="xl">MB0</text>
<line x1="43.56" y1="373.1" x2="43.56" y2="374.5" class="ax"/>
<text transform="translate(44.74 375.3) rotate(-90) scale(1 1)" class="xl">10C</text>
<line x1="47.81" y1="373.1" x2="47.81" y2="374.5" class="ax"/>
<text transform="translate(48.98 375.3) rotate(-90) scale(1 1)" class="xl">AN</text>
<line x1="52.05" y1="373.1" x2="52.05" y2="374.5" class="ax"/>
<text transform="translate(53.23 375.3) rotate(-90) scale(1 1)" class="xl">7</text>
<line x1="56.3" y1="373.1" x2="56.3" y2="374.5" class="ax"/>
<text transform="translate(57.47 375.3) rotate(-90) scale(1 1)" class="xl">WC</text>
<line x1="60.54" y1="373.1" x2="60.54" y2="374.5" class="ax"/>
<text transform="translate(61.72 375.3) rotate(-90) scale(1 1)" class="xl">14</text>
<line x1="64.78" y1="373.1" x2="64.78" y2="374.5" class="ax"/>
<text transform="translate(65.96 375.3) rotate(-90) scale(1 1)" class="xl">WA</text>
<line x1="69.03" y1="373.1" x2="69.03" y2="374.5" class="ax"/>
<text transform="translate(70.2 375.3) rotate(-90) scale(1 1)" class="xl">10B</text>
<line x1="73.27" y1="373.1" x2="73.27" y2="374.5" class="ax"/>
<text transform="translate(74.45 375.3) rotate(-90) scale(1 1)" class="xl">12A</text>
<line x1="77.52" y1="373.1" x2="77.52" y2="374.5" class="ax"/>
<text transform="translate(78.69 375.3) rotate(-90) scale(1 1)" class="xl">10B</text>
<line x1="81.76" y1="373.1" x2="81.76" y2="374.5" class="ax"/>
<text transform="translate(82.94 375.3) rotate(-90) scale(1 1)" class="xl">12A</text>
<line x1="86" y1="373.1" x2="86" y2="374.5" class="ax"/>
<text transform="translate(87.18 375.3) rotate(-90) scale(1 1)" class="xl">13A</text>
<line x1="90.25" y1="373.1" x2="90.25" y2="374.5" class="ax"/>
<text transform="translate(91.42 375.3) rotate(-90) scale(1 1)" class="xl">1</text>
<line x1="94.49" y1="373.1" x2="94.49" y2="374.5" class="ax"/>
<text transform="translate(95.67 375.3) rotate(-90) scale(1 1)" class="xl">3</text>
<line x1="98.74" y1="373.1" x2="98.74" y2="374.5" class="ax"/>
<text transform="translate(99.91 375.3) rotate(-90) scale(1 1)" class="xl">16A</text>
<line x1="102.98" y1="373.1" x2="102.98" y2="374.5" class="ax"/>
<text transform="translate(104.16 375.3) rotate(-90) scale(1 1)" class="xl">4</text>
<line x1="107.22" y1="373.1" x2="107.22" y2="374.5" class="ax"/>
<text transform="translate(108.4 375.3) rotate(-90) scale(1 1)" class="xl">11B</text>
<line x1="111.47" y1="373.1" x2="111.47" y2="374.5" class="ax"/>
<text transform="translate(112.64 375.3) rotate(-90) scale(1 1)" class="xl">2</text>
<line x1="115.71" y1="373.1" x2="115.71" y2="374.5" class="ax"/>
<text transform="translate(116.89 375.3) rotate(-90) scale(1 1)" class="xl">RCAN</text>
<line x1="119.96" y1="373.1" x2="119.96" y2="374.5" class="ax"/>
<text transform="translate(121.13 375.3) rotate(-90) scale(1 1)" class="xl">RC2</text>
<line x1="124.2" y1="373.1" x2="124.2" y2="374.5" class="ax"/>
<text transform="translate(125.38 375.3) rotate(-90) scale(1 1)" class="xl">MCA</text>
<line x1="128.44" y1="373.1" x2="128.44" y2="374.5" class="ax"/>
<text transform="translate(129.62 375.3) rotate(-90) scale(1 1)" class="xl">MC</text>
<line x1="132.69" y1="373.1" x2="132.69" y2="374.5" class="ax"/>
<text transform="translate(133.86 375.3) rotate(-90) scale(1 1)" class="xl">MC5</text>
<line x1="136.93" y1="373.1" x2="136.93" y2="374.5" class="ax"/>
<text transform="translate(138.11 375.3) rotate(-90) scale(1 1)" class="xl">5</text>
<line x1="141.18" y1="373.1" x2="141.18" y2="374.5" class="ax"/>
<text transform="translate(142.35 375.3) rotate(-90) scale(1 1)" class="xl">10</text>
<line x1="145.42" y1="373.1" x2="145.42" y2="374.5" class="ax"/>
<text transform="translate(146.6 375.3) rotate(-90) scale(1 1)" class="xl">MC2</text>
<line x1="149.66" y1="373.1" x2="149.66" y2="374.5" class="ax"/>
<text transform="translate(150.84 375.3) rotate(-90) scale(1 1)" class="xl">MC3</text>
<line x1="153.91" y1="373.1" x2="153.91" y2="374.5" class="ax"/>
<text transform="translate(155.08 375.3) rotate(-90) scale(1 1)" class="xl">LA</text>
<line x1="158.15" y1="373.1" x2="158.15" y2="374.5" class="ax"/>
<text transform="translate(159.33 375.3) rotate(-90) scale(1 1)" class="xl">1</text>
<line x1="162.4" y1="373.1" x2="162.4" y2="374.5" class="ax"/>
<text transform="translate(163.57 375.3) rotate(-90) scale(1 1)" class="xl">7</text>
<line x1="166.64" y1="373.1" x2="166.64" y2="374.5" class="ax"/>
<text transform="translate(167.82 375.3) rotate(-90) scale(1 1)" class="xl">3</text>
<line x1="170.88" y1="373.1" x2="170.88" y2="374.5" class="ax"/>
<text transform="translate(172.06 375.3) rotate(-90) scale(1 1)" class="xl">13B</text>
<text transform="translate(4.8 331.9) rotate(-90)" class="yl" textLength="76.6" lengthAdjust="spacingAndGlyphs">Very Coarse Sand (1 - 2 mm)</text>
<rect x="16.65" y="369.3" width="2.9" height="2.4" fill="#c25fb4" stroke="#3a0c38" stroke-width="1"/>
<line x1="16.65" y1="370.5" x2="19.55" y2="370.5" stroke="#3a0c38" stroke-width="0.9"/>
<rect x="20.39" y="370.85" width="3.9" height="1.1" fill="#222"/>
<rect x="25.14" y="368.3" width="2.9" height="3.4" fill="#c25fb4" stroke="#3a0c38" stroke-width="1"/>
<line x1="25.14" y1="370" x2="28.04" y2="370" stroke="#3a0c38" stroke-width="0.9"/>
<rect x="28.88" y="370.85" width="3.9" height="1.1" fill="#222"/>
<rect x="33.13" y="370.85" width="3.9" height="1.1" fill="#222"/>
<rect x="37.37" y="370.85" width="3.9" height="1.1" fill="#222"/>
<rect x="41.61" y="370.85" width="3.9" height="1.1" fill="#222"/>
<rect x="45.86" y="370.85" width="3.9" height="1.1" fill="#222"/>
<rect x="50.6" y="370.3" width="2.9" height="1.4" fill="#c25fb4" stroke="#3a0c38" stroke-width="1"/>
<line x1="50.6" y1="371" x2="53.5" y2="371" stroke="#3a0c38" stroke-width="0.9"/>
<rect x="54.35" y="370.85" width="3.9" height="1.1" fill="#222"/>
<rect x="59.09" y="370.3" width="2.9" height="1.4" fill="#465aac" stroke="#161c4a" stroke-width="1"/>
<line x1="59.09" y1="371" x2="61.99" y2="371" stroke="#161c4a" stroke-width="0.9"/>
<rect x="62.83" y="370.35" width="3.9" height="1.1" fill="#222"/>
<line x1="69.03" y1="348.3" x2="69.03" y2="359.1" class="wh"/>
<line x1="68.28" y1="348.3" x2="69.78" y2="348.3" class="cap"/>
<rect x="67.58" y="359.1" width="2.9" height="11.9" fill="#465aac" stroke="#161c4a" stroke-width="1"/>
<line x1="67.58" y1="362" x2="70.48" y2="362" stroke="#161c4a" stroke-width="0.9"/>
<rect x="71.82" y="368.6" width="2.9" height="2.4" fill="#465aac" stroke="#161c4a" stroke-width="1"/>
<line x1="71.82" y1="369.8" x2="74.72" y2="369.8" stroke="#161c4a" stroke-width="0.9"/>
<line x1="77.52" y1="363.2" x2="77.52" y2="367.1" class="wh"/>
<line x1="76.77" y1="363.2" x2="78.27" y2="363.2" class="cap"/>
<rect x="76.07" y="367.1" width="2.9" height="3.9" fill="#465aac" stroke="#161c4a" stroke-width="1"/>
<line x1="76.07" y1="368.6" x2="78.97" y2="368.6" stroke="#161c4a" stroke-width="0.9"/>
<line x1="81.76" y1="367.1" x2="81.76" y2="368.6" class="wh"/>
<line x1="81.01" y1="367.1" x2="82.51" y2="367.1" class="cap"/>
<rect x="80.31" y="368.6" width="2.9" height="2.4" fill="#465aac" stroke="#161c4a" stroke-width="1"/>
<line x1="80.31" y1="369.8" x2="83.21" y2="369.8" stroke="#161c4a" stroke-width="0.9"/>
<rect x="84.05" y="370.35" width="3.9" height="1.1" fill="#222"/>
<rect x="88.8" y="358" width="2.9" height="5.2" fill="#e22c2c" stroke="#520808" stroke-width="1"/>
<line x1="88.8" y1="360.6" x2="91.7" y2="360.6" stroke="#520808" stroke-width="0.9"/>
<line x1="94.49" y1="358" x2="94.49" y2="360.6" class="wh"/>
<line x1="93.74" y1="358" x2="95.24" y2="358" class="cap"/>
<rect x="93.04" y="360.6" width="2.9" height="9" fill="#e22c2c" stroke="#520808" stroke-width="1"/>
<line x1="93.04" y1="364.9" x2="95.94" y2="364.9" stroke="#520808" stroke-width="0.9"/>
<rect x="96.79" y="370.35" width="3.9" height="1.1" fill="#222"/>
<line x1="102.98" y1="342.5" x2="102.98" y2="343.9" class="wh"/>
<line x1="102.23" y1="342.5" x2="103.73" y2="342.5" class="cap"/>
<rect x="101.53" y="343.9" width="2.9" height="26.8" fill="#e22c2c" stroke="#520808" stroke-width="1"/>
<line x1="101.53" y1="358" x2="104.43" y2="358" stroke="#520808" stroke-width="0.9"/>
<line x1="107.22" y1="353.3" x2="107.22" y2="359.4" class="wh"/>
<line x1="106.47" y1="353.3" x2="107.97" y2="353.3" class="cap"/>
<rect x="105.77" y="359.4" width="2.9" height="10.2" fill="#e22c2c" stroke="#520808" stroke-width="1"/>
<line x1="105.77" y1="364.9" x2="108.67" y2="364.9" stroke="#520808" stroke-width="0.9"/>
<line x1="111.47" y1="354.8" x2="111.47" y2="358.4" class="wh"/>
<line x1="110.72" y1="354.8" x2="112.22" y2="354.8" class="cap"/>
<rect x="110.02" y="358.4" width="2.9" height="9.1" fill="#e22c2c" stroke="#520808" stroke-width="1"/>
<line x1="110.02" y1="362.8" x2="112.92" y2="362.8" stroke="#520808" stroke-width="0.9"/>
<rect x="113.76" y="370.45" width="3.9" height="1.1" fill="#222"/>
<line x1="119.96" y1="349.7" x2="119.96" y2="351.6" class="wh"/>
<line x1="119.21" y1="349.7" x2="120.71" y2="349.7" class="cap"/>
<line x1="119.96" y1="368.6" x2="119.96" y2="370.4" class="wh"/>
<line x1="119.21" y1="370.4" x2="120.71" y2="370.4" class="cap"/>
<rect x="118.51" y="351.6" width="2.9" height="17" fill="#e22c2c" stroke="#520808" stroke-width="1"/>
<line x1="118.51" y1="360.3" x2="121.41" y2="360.3" stroke="#520808" stroke-width="0.9"/>
<rect x="122.25" y="370.45" width="3.9" height="1.1" fill="#222"/>
<line x1="128.44" y1="339.6" x2="128.44" y2="351.6" class="wh"/>
<line x1="127.69" y1="339.6" x2="129.19" y2="339.6" class="cap"/>
<line x1="128.44" y1="368.6" x2="128.44" y2="371" class="wh"/>
<line x1="127.69" y1="371" x2="129.19" y2="371" class="cap"/>
<rect x="126.99" y="351.6" width="2.9" height="17" fill="#e22c2c" stroke="#520808" stroke-width="1"/>
<line x1="126.99" y1="363.2" x2="129.89" y2="363.2" stroke="#520808" stroke-width="0.9"/>
<rect x="131.24" y="343.2" width="2.9" height="27.5" fill="#e22c2c" stroke="#520808" stroke-width="1"/>
<line x1="131.24" y1="357" x2="134.14" y2="357" stroke="#520808" stroke-width="0.9"/>
<rect x="134.98" y="370.45" width="3.9" height="1.1" fill="#222"/>
<line x1="141.18" y1="338.1" x2="141.18" y2="348.3" class="wh"/>
<line x1="140.43" y1="338.1" x2="141.93" y2="338.1" class="cap"/>
<line x1="141.18" y1="364.9" x2="141.18" y2="370.7" class="wh"/>
<line x1="140.43" y1="370.7" x2="141.93" y2="370.7" class="cap"/>
<rect x="139.73" y="348.3" width="2.9" height="16.6" fill="#e22c2c" stroke="#520808" stroke-width="1"/>
<line x1="139.73" y1="358.4" x2="142.63" y2="358.4" stroke="#520808" stroke-width="0.9"/>
<rect x="143.47" y="369.85" width="3.9" height="1.1" fill="#222"/>
<rect x="148.21" y="367.3" width="2.9" height="3.6" fill="#74c252" stroke="#22501a" stroke-width="1"/>
<line x1="148.21" y1="369.1" x2="151.11" y2="369.1" stroke="#22501a" stroke-width="0.9"/>
<line x1="153.91" y1="292.6" x2="153.91" y2="322.6" class="wh"/>
<line x1="153.16" y1="292.6" x2="154.66" y2="292.6" class="cap"/>
<rect x="152.46" y="322.6" width="2.9" height="41.4" fill="#74c252" stroke="#22501a" stroke-width="1"/>
<line x1="152.46" y1="355.1" x2="155.36" y2="355.1" stroke="#22501a" stroke-width="0.9"/>
<line x1="158.15" y1="333.1" x2="158.15" y2="347.2" class="wh"/>
<line x1="157.4" y1="333.1" x2="158.9" y2="333.1" class="cap"/>
<line x1="158.15" y1="364.6" x2="158.15" y2="366" class="wh"/>
<line x1="157.4" y1="366" x2="158.9" y2="366" class="cap"/>
<rect x="156.7" y="347.2" width="2.9" height="17.4" fill="#74c252" stroke="#22501a" stroke-width="1"/>
<line x1="156.7" y1="362" x2="159.6" y2="362" stroke="#22501a" stroke-width="0.9"/>
<line x1="162.4" y1="365" x2="162.4" y2="369.9" class="wh"/>
<line x1="161.65" y1="369.9" x2="163.15" y2="369.9" class="cap"/>
<rect x="160.95" y="358.1" width="2.9" height="6.9" fill="#74c252" stroke="#22501a" stroke-width="1"/>
<line x1="160.95" y1="361.5" x2="163.85" y2="361.5" stroke="#22501a" stroke-width="0.9"/>
<line x1="166.64" y1="342.9" x2="166.64" y2="347.2" class="wh"/>
<line x1="165.89" y1="342.9" x2="167.39" y2="342.9" class="cap"/>
<line x1="166.64" y1="357.1" x2="166.64" y2="360" class="wh"/>
<line x1="165.89" y1="360" x2="167.39" y2="360" class="cap"/>
<rect x="165.19" y="347.2" width="2.9" height="9.9" fill="#74c252" stroke="#22501a" stroke-width="1"/>
<line x1="165.19" y1="350.8" x2="168.09" y2="350.8" stroke="#22501a" stroke-width="0.9"/>
<line x1="170.88" y1="345.3" x2="170.88" y2="347.2" class="wh"/>
<line x1="170.13" y1="345.3" x2="171.63" y2="345.3" class="cap"/>
<rect x="169.43" y="347.2" width="2.9" height="23.7" fill="#74c252" stroke="#22501a" stroke-width="1"/>
<line x1="169.43" y1="360" x2="172.33" y2="360" stroke="#22501a" stroke-width="0.9"/>
<line x1="189.6" y1="289.9" x2="189.6" y2="371.3" class="ax"/>
<line x1="188" y1="371" x2="189.6" y2="371" class="ax"/>
<text x="187.7" y="372.35" class="tl">0</text>
<line x1="188" y1="354.84" x2="189.6" y2="354.84" class="ax"/>
<text x="187.7" y="356.19" class="tl">5</text>
<line x1="188" y1="338.68" x2="189.6" y2="338.68" class="ax"/>
<text x="187.7" y="340.03" class="tl">10</text>
<line x1="188" y1="322.52" x2="189.6" y2="322.52" class="ax"/>
<text x="187.7" y="323.87" class="tl">15</text>
<line x1="188" y1="306.36" x2="189.6" y2="306.36" class="ax"/>
<text x="187.7" y="307.71" class="tl">20</text>
<line x1="188" y1="290.2" x2="189.6" y2="290.2" class="ax"/>
<text x="187.7" y="291.55" class="tl">25</text>
<line x1="192.6" y1="373" x2="349.5" y2="373" class="ax"/>
<line x1="194.7" y1="373" x2="194.7" y2="374.4" class="ax"/>
<text transform="translate(195.88 375.2) rotate(-90) scale(1 1)" class="xl">9</text>
<line x1="198.95" y1="373" x2="198.95" y2="374.4" class="ax"/>
<text transform="translate(200.13 375.2) rotate(-90) scale(1 1)" class="xl">10A</text>
<line x1="203.2" y1="373" x2="203.2" y2="374.4" class="ax"/>
<text transform="translate(204.38 375.2) rotate(-90) scale(1 1)" class="xl">17</text>
<line x1="207.45" y1="373" x2="207.45" y2="374.4" class="ax"/>
<text transform="translate(208.63 375.2) rotate(-90) scale(1 1)" class="xl">10C</text>
<line x1="211.7" y1="373" x2="211.7" y2="374.4" class="ax"/>
<text transform="translate(212.88 375.2) rotate(-90) scale(1 1)" class="xl">14A</text>
<line x1="215.95" y1="373" x2="215.95" y2="374.4" class="ax"/>
<text transform="translate(217.13 375.2) rotate(-90) scale(1 1)" class="xl">MB0</text>
<line x1="220.2" y1="373" x2="220.2" y2="374.4" class="ax"/>
<text transform="translate(221.38 375.2) rotate(-90) scale(1 1)" class="xl">10C</text>
<line x1="224.45" y1="373" x2="224.45" y2="374.4" class="ax"/>
<text transform="translate(225.63 375.2) rotate(-90) scale(1 1)" class="xl">AN</text>
<line x1="228.7" y1="373" x2="228.7" y2="374.4" class="ax"/>
<text transform="translate(229.88 375.2) rotate(-90) scale(1 1)" class="xl">7</text>
<line x1="232.95" y1="373" x2="232.95" y2="374.4" class="ax"/>
<text transform="translate(234.13 375.2) rotate(-90) scale(1 1)" class="xl">WC</text>
<line x1="237.2" y1="373" x2="237.2" y2="374.4" class="ax"/>
<text transform="translate(238.38 375.2) rotate(-90) scale(1 1)" class="xl">14</text>
<line x1="241.45" y1="373" x2="241.45" y2="374.4" class="ax"/>
<text transform="translate(242.63 375.2) rotate(-90) scale(1 1)" class="xl">WA</text>
<line x1="245.7" y1="373" x2="245.7" y2="374.4" class="ax"/>
<text transform="translate(246.88 375.2) rotate(-90) scale(1 1)" class="xl">10B</text>
<line x1="249.95" y1="373" x2="249.95" y2="374.4" class="ax"/>
<text transform="translate(251.13 375.2) rotate(-90) scale(1 1)" class="xl">12A</text>
<line x1="254.2" y1="373" x2="254.2" y2="374.4" class="ax"/>
<text transform="translate(255.38 375.2) rotate(-90) scale(1 1)" class="xl">10B</text>
<line x1="258.45" y1="373" x2="258.45" y2="374.4" class="ax"/>
<text transform="translate(259.63 375.2) rotate(-90) scale(1 1)" class="xl">12A</text>
<line x1="262.7" y1="373" x2="262.7" y2="374.4" class="ax"/>
<text transform="translate(263.88 375.2) rotate(-90) scale(1 1)" class="xl">13A</text>
<line x1="266.95" y1="373" x2="266.95" y2="374.4" class="ax"/>
<text transform="translate(268.13 375.2) rotate(-90) scale(1 1)" class="xl">1</text>
<line x1="271.2" y1="373" x2="271.2" y2="374.4" class="ax"/>
<text transform="translate(272.38 375.2) rotate(-90) scale(1 1)" class="xl">3</text>
<line x1="275.45" y1="373" x2="275.45" y2="374.4" class="ax"/>
<text transform="translate(276.63 375.2) rotate(-90) scale(1 1)" class="xl">16A</text>
<line x1="279.7" y1="373" x2="279.7" y2="374.4" class="ax"/>
<text transform="translate(280.88 375.2) rotate(-90) scale(1 1)" class="xl">4</text>
<line x1="283.95" y1="373" x2="283.95" y2="374.4" class="ax"/>
<text transform="translate(285.13 375.2) rotate(-90) scale(1 1)" class="xl">11B</text>
<line x1="288.2" y1="373" x2="288.2" y2="374.4" class="ax"/>
<text transform="translate(289.38 375.2) rotate(-90) scale(1 1)" class="xl">2</text>
<line x1="292.45" y1="373" x2="292.45" y2="374.4" class="ax"/>
<text transform="translate(293.63 375.2) rotate(-90) scale(1 1)" class="xl">RCAN</text>
<line x1="296.7" y1="373" x2="296.7" y2="374.4" class="ax"/>
<text transform="translate(297.88 375.2) rotate(-90) scale(1 1)" class="xl">RC2</text>
<line x1="300.95" y1="373" x2="300.95" y2="374.4" class="ax"/>
<text transform="translate(302.13 375.2) rotate(-90) scale(1 1)" class="xl">MCA</text>
<line x1="305.2" y1="373" x2="305.2" y2="374.4" class="ax"/>
<text transform="translate(306.38 375.2) rotate(-90) scale(1 1)" class="xl">MC</text>
<line x1="309.45" y1="373" x2="309.45" y2="374.4" class="ax"/>
<text transform="translate(310.63 375.2) rotate(-90) scale(1 1)" class="xl">MC5</text>
<line x1="313.7" y1="373" x2="313.7" y2="374.4" class="ax"/>
<text transform="translate(314.88 375.2) rotate(-90) scale(1 1)" class="xl">5</text>
<line x1="317.95" y1="373" x2="317.95" y2="374.4" class="ax"/>
<text transform="translate(319.13 375.2) rotate(-90) scale(1 1)" class="xl">10</text>
<line x1="322.2" y1="373" x2="322.2" y2="374.4" class="ax"/>
<text transform="translate(323.38 375.2) rotate(-90) scale(1 1)" class="xl">MC2</text>
<line x1="326.45" y1="373" x2="326.45" y2="374.4" class="ax"/>
<text transform="translate(327.63 375.2) rotate(-90) scale(1 1)" class="xl">MC3</text>
<line x1="330.7" y1="373" x2="330.7" y2="374.4" class="ax"/>
<text transform="translate(331.88 375.2) rotate(-90) scale(1 1)" class="xl">LA</text>
<line x1="334.95" y1="373" x2="334.95" y2="374.4" class="ax"/>
<text transform="translate(336.13 375.2) rotate(-90) scale(1 1)" class="xl">1</text>
<line x1="339.2" y1="373" x2="339.2" y2="374.4" class="ax"/>
<text transform="translate(340.38 375.2) rotate(-90) scale(1 1)" class="xl">7</text>
<line x1="343.45" y1="373" x2="343.45" y2="374.4" class="ax"/>
<text transform="translate(344.63 375.2) rotate(-90) scale(1 1)" class="xl">3</text>
<line x1="347.7" y1="373" x2="347.7" y2="374.4" class="ax"/>
<text transform="translate(348.88 375.2) rotate(-90) scale(1 1)" class="xl">13B</text>
<text transform="translate(181.4 326.35) rotate(-90)" class="yl" textLength="55.9" lengthAdjust="spacingAndGlyphs">Very Coarse (&gt;2 mm)</text>
<rect x="193.25" y="367.4" width="2.9" height="3.3" fill="#c25fb4" stroke="#3a0c38" stroke-width="1"/>
<line x1="193.25" y1="369" x2="196.15" y2="369" stroke="#3a0c38" stroke-width="0.9"/>
<rect x="197.5" y="367.9" width="2.9" height="2.8" fill="#c25fb4" stroke="#3a0c38" stroke-width="1"/>
<line x1="197.5" y1="369.3" x2="200.4" y2="369.3" stroke="#3a0c38" stroke-width="0.9"/>
<rect x="201.75" y="367.9" width="2.9" height="2.8" fill="#c25fb4" stroke="#3a0c38" stroke-width="1"/>
<line x1="201.75" y1="369.3" x2="204.65" y2="369.3" stroke="#3a0c38" stroke-width="0.9"/>
<rect x="206" y="357.1" width="2.9" height="13.6" fill="#c25fb4" stroke="#3a0c38" stroke-width="1"/>
<line x1="206" y1="363.6" x2="208.9" y2="363.6" stroke="#3a0c38" stroke-width="0.9"/>
<rect x="210.25" y="368.6" width="2.9" height="2.1" fill="#c25fb4" stroke="#3a0c38" stroke-width="1"/>
<line x1="210.25" y1="369.6" x2="213.15" y2="369.6" stroke="#3a0c38" stroke-width="0.9"/>
<rect x="214" y="370.15" width="3.9" height="1.1" fill="#222"/>
<rect x="218.75" y="354.3" width="2.9" height="14.2" fill="#c25fb4" stroke="#3a0c38" stroke-width="1"/>
<line x1="218.75" y1="361.4" x2="221.65" y2="361.4" stroke="#3a0c38" stroke-width="0.9"/>
<rect x="222.5" y="370.15" width="3.9" height="1.1" fill="#222"/>
<line x1="228.7" y1="364.6" x2="228.7" y2="367.1" class="wh"/>
<line x1="227.95" y1="364.6" x2="229.45" y2="364.6" class="cap"/>
<rect x="227.25" y="367.1" width="2.9" height="3.6" fill="#c25fb4" stroke="#3a0c38" stroke-width="1"/>
<line x1="227.25" y1="369" x2="230.15" y2="369" stroke="#3a0c38" stroke-width="0.9"/>
<rect x="231" y="370.15" width="3.9" height="1.1" fill="#222"/>
<rect x="235.75" y="360.7" width="2.9" height="5" fill="#465aac" stroke="#161c4a" stroke-width="1"/>
<line x1="235.75" y1="363.2" x2="238.65" y2="363.2" stroke="#161c4a" stroke-width="0.9"/>
<rect x="239.5" y="370.65" width="3.9" height="1.1" fill="#222"/>
<line x1="245.7" y1="353.6" x2="245.7" y2="359.3" class="wh"/>
<line x1="244.95" y1="353.6" x2="246.45" y2="353.6" class="cap"/>
<line x1="245.7" y1="368.3" x2="245.7" y2="370.4" class="wh"/>
<line x1="244.95" y1="370.4" x2="246.45" y2="370.4" class="cap"/>
<rect x="244.25" y="359.3" width="2.9" height="9" fill="#465aac" stroke="#161c4a" stroke-width="1"/>
<line x1="244.25" y1="363.6" x2="247.15" y2="363.6" stroke="#161c4a" stroke-width="0.9"/>
<rect x="248.5" y="367.4" width="2.9" height="3.3" fill="#465aac" stroke="#161c4a" stroke-width="1"/>
<line x1="248.5" y1="369" x2="251.4" y2="369" stroke="#161c4a" stroke-width="0.9"/>
<rect x="252.25" y="368.05" width="3.9" height="1.1" fill="#222"/>
<rect x="257" y="367.9" width="2.9" height="2.8" fill="#465aac" stroke="#161c4a" stroke-width="1"/>
<line x1="257" y1="369.3" x2="259.9" y2="369.3" stroke="#161c4a" stroke-width="0.9"/>
<line x1="262.7" y1="361.4" x2="262.7" y2="363.1" class="wh"/>
<line x1="261.95" y1="361.4" x2="263.45" y2="361.4" class="cap"/>
<rect x="261.25" y="363.1" width="2.9" height="6.2" fill="#465aac" stroke="#161c4a" stroke-width="1"/>
<line x1="261.25" y1="366" x2="264.15" y2="366" stroke="#161c4a" stroke-width="0.9"/>
<line x1="266.95" y1="360" x2="266.95" y2="363.6" class="wh"/>
<line x1="266.2" y1="360" x2="267.7" y2="360" class="cap"/>
<rect x="265.5" y="363.6" width="2.9" height="5" fill="#e22c2c" stroke="#520808" stroke-width="1"/>
<line x1="265.5" y1="366" x2="268.4" y2="366" stroke="#520808" stroke-width="0.9"/>
<line x1="271.2" y1="298.3" x2="271.2" y2="313.6" class="wh"/>
<line x1="270.45" y1="298.3" x2="271.95" y2="298.3" class="cap"/>
<line x1="271.2" y1="368.6" x2="271.2" y2="371.4" class="wh"/>
<line x1="270.45" y1="371.4" x2="271.95" y2="371.4" class="cap"/>
<rect x="269.75" y="313.6" width="2.9" height="55" fill="#e22c2c" stroke="#520808" stroke-width="1"/>
<line x1="269.75" y1="358.6" x2="272.65" y2="358.6" stroke="#520808" stroke-width="0.9"/>
<rect x="273.5" y="370.15" width="3.9" height="1.1" fill="#222"/>
<line x1="279.7" y1="365.7" x2="279.7" y2="367.1" class="wh"/>
<line x1="278.95" y1="367.1" x2="280.45" y2="367.1" class="cap"/>
<rect x="278.25" y="354.8" width="2.9" height="10.9" fill="#e22c2c" stroke="#520808" stroke-width="1"/>
<line x1="278.25" y1="359.1" x2="281.15" y2="359.1" stroke="#520808" stroke-width="0.9"/>
<line x1="283.95" y1="328" x2="283.95" y2="329.9" class="wh"/>
<line x1="283.2" y1="328" x2="284.7" y2="328" class="cap"/>
<rect x="282.5" y="329.9" width="2.9" height="38.7" fill="#e22c2c" stroke="#520808" stroke-width="1"/>
<line x1="282.5" y1="346.8" x2="285.4" y2="346.8" stroke="#520808" stroke-width="0.9"/>
<rect x="286.75" y="365.7" width="2.9" height="2.9" fill="#e22c2c" stroke="#520808" stroke-width="1"/>
<line x1="286.75" y1="367.1" x2="289.65" y2="367.1" stroke="#520808" stroke-width="0.9"/>
<rect x="290.5" y="370.65" width="3.9" height="1.1" fill="#222"/>
<line x1="296.7" y1="324.3" x2="296.7" y2="336.7" class="wh"/>
<line x1="295.95" y1="324.3" x2="297.45" y2="324.3" class="cap"/>
<rect x="295.25" y="336.7" width="2.9" height="26.1" fill="#e22c2c" stroke="#520808" stroke-width="1"/>
<line x1="295.25" y1="354.8" x2="298.15" y2="354.8" stroke="#520808" stroke-width="0.9"/>
<rect x="299" y="370.65" width="3.9" height="1.1" fill="#222"/>
<line x1="305.2" y1="335.2" x2="305.2" y2="347.8" class="wh"/>
<line x1="304.45" y1="335.2" x2="305.95" y2="335.2" class="cap"/>
<rect x="303.75" y="347.8" width="2.9" height="18.3" fill="#e22c2c" stroke="#520808" stroke-width="1"/>
<line x1="303.75" y1="362.8" x2="306.65" y2="362.8" stroke="#520808" stroke-width="0.9"/>
<rect x="308" y="362" width="2.9" height="9.2" fill="#e22c2c" stroke="#520808" stroke-width="1"/>
<line x1="308" y1="366.4" x2="310.9" y2="366.4" stroke="#520808" stroke-width="0.9"/>
<rect x="311.75" y="370.65" width="3.9" height="1.1" fill="#222"/>
<line x1="317.95" y1="357.4" x2="317.95" y2="359.9" class="wh"/>
<line x1="317.2" y1="357.4" x2="318.7" y2="357.4" class="cap"/>
<rect x="316.5" y="359.9" width="2.9" height="7.9" fill="#e22c2c" stroke="#520808" stroke-width="1"/>
<line x1="316.5" y1="363.5" x2="319.4" y2="363.5" stroke="#520808" stroke-width="0.9"/>
<rect x="320.25" y="370.65" width="3.9" height="1.1" fill="#222"/>
<rect x="324.5" y="370.65" width="3.9" height="1.1" fill="#222"/>
<line x1="330.7" y1="364.6" x2="330.7" y2="366.2" class="wh"/>
<line x1="329.95" y1="364.6" x2="331.45" y2="364.6" class="cap"/>
<rect x="329.25" y="366.2" width="2.9" height="3.5" fill="#74c252" stroke="#22501a" stroke-width="1"/>
<line x1="329.25" y1="368" x2="332.15" y2="368" stroke="#22501a" stroke-width="0.9"/>
<line x1="334.95" y1="362.8" x2="334.95" y2="364.6" class="wh"/>
<line x1="334.2" y1="364.6" x2="335.7" y2="364.6" class="cap"/>
<rect x="333.5" y="355" width="2.9" height="7.8" fill="#74c252" stroke="#22501a" stroke-width="1"/>
<line x1="333.5" y1="359.3" x2="336.4" y2="359.3" stroke="#22501a" stroke-width="0.9"/>
<rect x="337.75" y="369.1" width="2.9" height="1.5" fill="#74c252" stroke="#22501a" stroke-width="1"/>
<line x1="337.75" y1="369.8" x2="340.65" y2="369.8" stroke="#22501a" stroke-width="0.9"/>
<line x1="343.45" y1="337" x2="343.45" y2="348.3" class="wh"/>
<line x1="342.7" y1="337" x2="344.2" y2="337" class="cap"/>
<rect x="342" y="348.3" width="2.9" height="13.7" fill="#74c252" stroke="#22501a" stroke-width="1"/>
<line x1="342" y1="359.3" x2="344.9" y2="359.3" stroke="#22501a" stroke-width="0.9"/>
<line x1="347.7" y1="305.2" x2="347.7" y2="323" class="wh"/>
<line x1="346.95" y1="305.2" x2="348.45" y2="305.2" class="cap"/>
<rect x="346.25" y="323" width="2.9" height="47" fill="#74c252" stroke="#22501a" stroke-width="1"/>
<line x1="346.25" y1="359.3" x2="349.15" y2="359.3" stroke="#22501a" stroke-width="0.9"/>
</g>
</svg>
</body></html>
